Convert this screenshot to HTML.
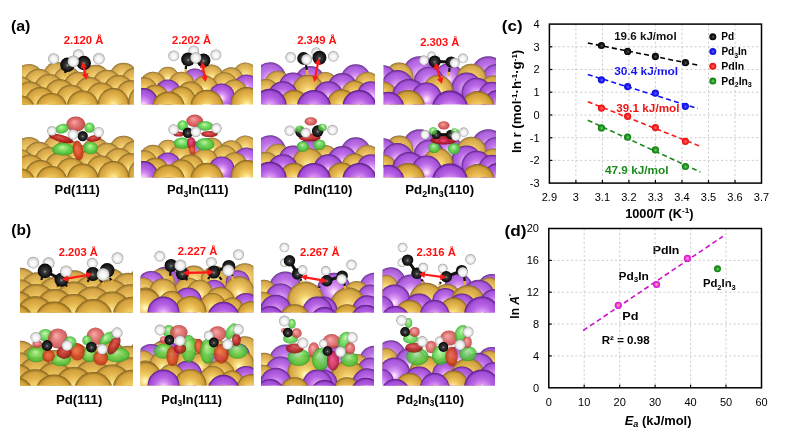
<!DOCTYPE html>
<html><head><meta charset="utf-8"><style>
html,body{margin:0;padding:0;background:#fff;}
svg{display:block;}
text{font-family:"Liberation Sans",Arial,sans-serif;}
</style></head><body>
<svg width="799" height="438" viewBox="0 0 799 438">
<defs>
<radialGradient id="gAu" cx="0.5" cy="0.5" r="0.5" fx="0.5" fy="0.58">
 <stop offset="0" stop-color="#fffbd8"/>
 <stop offset="0.12" stop-color="#fff0a0"/>
 <stop offset="0.32" stop-color="#f3d066"/>
 <stop offset="0.58" stop-color="#e4b44a"/>
 <stop offset="0.86" stop-color="#d09e36"/>
 <stop offset="0.96" stop-color="#9c7426"/>
 <stop offset="1" stop-color="#765616"/>
</radialGradient>
<radialGradient id="gIn" cx="0.5" cy="0.5" r="0.5" fx="0.5" fy="0.58">
 <stop offset="0" stop-color="#fff2ff"/>
 <stop offset="0.12" stop-color="#f8ccff"/>
 <stop offset="0.32" stop-color="#d690f2"/>
 <stop offset="0.58" stop-color="#b660e4"/>
 <stop offset="0.86" stop-color="#a04ad6"/>
 <stop offset="0.96" stop-color="#6c269a"/>
 <stop offset="1" stop-color="#4c1672"/>
</radialGradient>
<radialGradient id="gC" cx="0.5" cy="0.5" r="0.5" fx="0.5" fy="0.55">
 <stop offset="0" stop-color="#9a9a9a"/>
 <stop offset="0.25" stop-color="#3a3a3a"/>
 <stop offset="0.8" stop-color="#151515"/>
 <stop offset="1" stop-color="#000"/>
</radialGradient>
<radialGradient id="gH" cx="0.5" cy="0.5" r="0.5" fx="0.5" fy="0.6">
 <stop offset="0" stop-color="#ffffff"/>
 <stop offset="0.55" stop-color="#f2f2f2"/>
 <stop offset="0.85" stop-color="#d0d0d0"/>
 <stop offset="1" stop-color="#8c8c8c"/>
</radialGradient>

<radialGradient id="mk_k" cx="0.5" cy="0.5" r="0.5" fx="0.55" fy="0.55"><stop offset="0" stop-color="#6a6a6a"/><stop offset="0.35" stop-color="#222"/><stop offset="1" stop-color="#000"/></radialGradient>
<radialGradient id="mk_b" cx="0.5" cy="0.5" r="0.5" fx="0.55" fy="0.55"><stop offset="0" stop-color="#7a7aff"/><stop offset="0.4" stop-color="#2020ff"/><stop offset="1" stop-color="#1010d0"/></radialGradient>
<radialGradient id="mk_r" cx="0.5" cy="0.5" r="0.5" fx="0.55" fy="0.55"><stop offset="0" stop-color="#ff8a8a"/><stop offset="0.4" stop-color="#ff2a2a"/><stop offset="1" stop-color="#e01010"/></radialGradient>
<radialGradient id="mk_g" cx="0.5" cy="0.5" r="0.5" fx="0.55" fy="0.55"><stop offset="0" stop-color="#8ae08a"/><stop offset="0.4" stop-color="#2aa02a"/><stop offset="1" stop-color="#107a10"/></radialGradient>
<radialGradient id="mk_m" cx="0.5" cy="0.5" r="0.5" fx="0.5" fy="0.5"><stop offset="0" stop-color="#ffd040"/><stop offset="0.3" stop-color="#ff70d0"/><stop offset="0.6" stop-color="#e830e0"/><stop offset="1" stop-color="#d010d0"/></radialGradient>

<radialGradient id="gR" cx="0.5" cy="0.5" r="0.5" fx="0.4" fy="0.35">
 <stop offset="0" stop-color="#f4a0a0"/><stop offset="0.5" stop-color="#e06464"/><stop offset="0.9" stop-color="#c84444"/><stop offset="1" stop-color="#a83030"/>
</radialGradient>
<radialGradient id="gD" cx="0.5" cy="0.5" r="0.5" fx="0.4" fy="0.4">
 <stop offset="0" stop-color="#e05050"/><stop offset="0.6" stop-color="#c02424"/><stop offset="1" stop-color="#8a1010"/>
</radialGradient>
<radialGradient id="gO" cx="0.5" cy="0.5" r="0.5" fx="0.4" fy="0.4">
 <stop offset="0" stop-color="#f07050"/><stop offset="0.6" stop-color="#dc4a28"/><stop offset="1" stop-color="#b03018"/>
</radialGradient>
<radialGradient id="gM" cx="0.5" cy="0.5" r="0.5" fx="0.4" fy="0.4">
 <stop offset="0" stop-color="#f05080"/><stop offset="0.6" stop-color="#d02850"/><stop offset="1" stop-color="#a01838"/>
</radialGradient>
<radialGradient id="gG" cx="0.5" cy="0.5" r="0.5" fx="0.45" fy="0.3">
 <stop offset="0" stop-color="#c0f8b0"/><stop offset="0.45" stop-color="#70dc5c"/><stop offset="0.85" stop-color="#48c03a"/><stop offset="1" stop-color="#2e9a24"/>
</radialGradient>
</defs>
<rect width="799" height="438" fill="#fff"/>
<clipPath id="sc1"><rect x="22.0" y="55.0" width="112.0" height="49.6"/></clipPath>
<g clip-path="url(#sc1)">
<circle cx="57.0" cy="76.1" r="14.1" fill="url(#gAu)"/>
<circle cx="57.0" cy="76.1" r="14.1" fill="#fff" fill-opacity="0.120"/>
<circle cx="123.6" cy="77.0" r="14.2" fill="url(#gAu)"/>
<circle cx="123.6" cy="77.0" r="14.2" fill="#fff" fill-opacity="0.117"/>
<circle cx="28.8" cy="78.1" r="14.2" fill="url(#gAu)"/>
<circle cx="28.8" cy="78.1" r="14.2" fill="#fff" fill-opacity="0.113"/>
<circle cx="95.7" cy="79.1" r="14.3" fill="url(#gAu)"/>
<circle cx="95.7" cy="79.1" r="14.3" fill="#fff" fill-opacity="0.110"/>
<circle cx="67.5" cy="81.2" r="14.4" fill="url(#gAu)"/>
<circle cx="67.5" cy="81.2" r="14.4" fill="#fff" fill-opacity="0.103"/>
<circle cx="135.3" cy="82.2" r="14.4" fill="url(#gAu)"/>
<circle cx="135.3" cy="82.2" r="14.4" fill="#fff" fill-opacity="0.099"/>
<circle cx="38.7" cy="83.3" r="14.5" fill="url(#gAu)"/>
<circle cx="38.7" cy="83.3" r="14.5" fill="#fff" fill-opacity="0.095"/>
<circle cx="107.0" cy="84.3" r="14.6" fill="url(#gAu)"/>
<circle cx="107.0" cy="84.3" r="14.6" fill="#fff" fill-opacity="0.092"/>
<circle cx="9.6" cy="85.4" r="14.6" fill="url(#gAu)"/>
<circle cx="9.6" cy="85.4" r="14.6" fill="#fff" fill-opacity="0.088"/>
<circle cx="78.3" cy="86.5" r="14.7" fill="url(#gAu)"/>
<circle cx="78.3" cy="86.5" r="14.7" fill="#fff" fill-opacity="0.084"/>
<circle cx="147.5" cy="87.5" r="14.7" fill="url(#gAu)"/>
<circle cx="147.5" cy="87.5" r="14.7" fill="#fff" fill-opacity="0.081"/>
<circle cx="49.1" cy="88.7" r="14.8" fill="url(#gAu)"/>
<circle cx="49.1" cy="88.7" r="14.8" fill="#fff" fill-opacity="0.077"/>
<circle cx="118.7" cy="89.8" r="14.8" fill="url(#gAu)"/>
<circle cx="118.7" cy="89.8" r="14.8" fill="#fff" fill-opacity="0.073"/>
<circle cx="19.4" cy="90.9" r="14.9" fill="url(#gAu)"/>
<circle cx="19.4" cy="90.9" r="14.9" fill="#fff" fill-opacity="0.069"/>
<circle cx="89.5" cy="92.0" r="15.0" fill="url(#gAu)"/>
<circle cx="89.5" cy="92.0" r="15.0" fill="#fff" fill-opacity="0.066"/>
<circle cx="59.9" cy="94.3" r="15.1" fill="url(#gAu)"/>
<circle cx="59.9" cy="94.3" r="15.1" fill="#fff" fill-opacity="0.058"/>
<circle cx="130.9" cy="95.4" r="15.1" fill="url(#gAu)"/>
<circle cx="130.9" cy="95.4" r="15.1" fill="#fff" fill-opacity="0.054"/>
<circle cx="29.7" cy="96.6" r="15.2" fill="url(#gAu)"/>
<circle cx="29.7" cy="96.6" r="15.2" fill="#fff" fill-opacity="0.050"/>
<circle cx="101.2" cy="97.7" r="15.3" fill="url(#gAu)"/>
<circle cx="101.2" cy="97.7" r="15.3" fill="#fff" fill-opacity="0.046"/>
<circle cx="71.0" cy="100.1" r="15.4" fill="url(#gAu)"/>
<circle cx="71.0" cy="100.1" r="15.4" fill="#fff" fill-opacity="0.038"/>
<circle cx="143.6" cy="101.3" r="15.4" fill="url(#gAu)"/>
<circle cx="143.6" cy="101.3" r="15.4" fill="#fff" fill-opacity="0.034"/>
<circle cx="40.4" cy="102.5" r="15.5" fill="url(#gAu)"/>
<circle cx="40.4" cy="102.5" r="15.5" fill="#fff" fill-opacity="0.030"/>
<circle cx="113.4" cy="103.7" r="15.6" fill="url(#gAu)"/>
<circle cx="113.4" cy="103.7" r="15.6" fill="#fff" fill-opacity="0.026"/>
<circle cx="9.2" cy="105.0" r="15.6" fill="url(#gAu)"/>
<circle cx="9.2" cy="105.0" r="15.6" fill="#fff" fill-opacity="0.021"/>
<circle cx="82.7" cy="106.2" r="15.7" fill="url(#gAu)"/>
<circle cx="82.7" cy="106.2" r="15.7" fill="#fff" fill-opacity="0.017"/>
<circle cx="51.5" cy="108.7" r="15.8" fill="url(#gAu)"/>
<circle cx="19.7" cy="111.3" r="16.0" fill="url(#gAu)"/>
</g>
<clipPath id="sc2"><rect x="141.0" y="50.0" width="112.0" height="54.6"/></clipPath>
<g clip-path="url(#sc2)">
<circle cx="245.4" cy="74.4" r="12.0" fill="url(#gAu)"/>
<circle cx="245.4" cy="74.4" r="12.0" fill="#fff" fill-opacity="0.120"/>
<circle cx="211.4" cy="76.6" r="12.0" fill="url(#gAu)"/>
<circle cx="211.4" cy="76.6" r="12.0" fill="#fff" fill-opacity="0.112"/>
<circle cx="167.9" cy="77.8" r="11.0" fill="url(#gAu)"/>
<circle cx="167.9" cy="77.8" r="11.0" fill="#fff" fill-opacity="0.108"/>
<circle cx="231.1" cy="79.3" r="12.0" fill="url(#gAu)"/>
<circle cx="231.1" cy="79.3" r="12.0" fill="#fff" fill-opacity="0.103"/>
<circle cx="194.7" cy="81.4" r="13.0" fill="url(#gIn)"/>
<circle cx="194.7" cy="81.4" r="13.0" fill="#fff" fill-opacity="0.095"/>
<circle cx="153.0" cy="84.7" r="13.0" fill="url(#gAu)"/>
<circle cx="153.0" cy="84.7" r="13.0" fill="#fff" fill-opacity="0.083"/>
<circle cx="181.6" cy="84.7" r="13.0" fill="url(#gAu)"/>
<circle cx="181.6" cy="84.7" r="13.0" fill="#fff" fill-opacity="0.083"/>
<circle cx="224.6" cy="85.2" r="13.0" fill="url(#gAu)"/>
<circle cx="224.6" cy="85.2" r="13.0" fill="#fff" fill-opacity="0.081"/>
<circle cx="246.5" cy="87.4" r="13.0" fill="url(#gIn)"/>
<circle cx="246.5" cy="87.4" r="13.0" fill="#fff" fill-opacity="0.074"/>
<circle cx="204.9" cy="88.5" r="13.0" fill="url(#gAu)"/>
<circle cx="204.9" cy="88.5" r="13.0" fill="#fff" fill-opacity="0.070"/>
<circle cx="144.4" cy="90.2" r="13.0" fill="url(#gAu)"/>
<circle cx="144.4" cy="90.2" r="13.0" fill="#fff" fill-opacity="0.064"/>
<circle cx="167.9" cy="92.4" r="13.0" fill="url(#gIn)"/>
<circle cx="167.9" cy="92.4" r="13.0" fill="#fff" fill-opacity="0.056"/>
<circle cx="234.4" cy="92.4" r="13.0" fill="url(#gAu)"/>
<circle cx="234.4" cy="92.4" r="13.0" fill="#fff" fill-opacity="0.056"/>
<circle cx="190.4" cy="95.5" r="14.0" fill="url(#gAu)"/>
<circle cx="190.4" cy="95.5" r="14.0" fill="#fff" fill-opacity="0.045"/>
<circle cx="221.7" cy="96.4" r="13.0" fill="url(#gIn)"/>
<circle cx="221.7" cy="96.4" r="13.0" fill="#fff" fill-opacity="0.041"/>
<circle cx="155.3" cy="98.8" r="14.0" fill="url(#gAu)"/>
<circle cx="155.3" cy="98.8" r="14.0" fill="#fff" fill-opacity="0.033"/>
<circle cx="181.6" cy="100.5" r="14.0" fill="url(#gAu)"/>
<circle cx="181.6" cy="100.5" r="14.0" fill="#fff" fill-opacity="0.027"/>
<circle cx="143.3" cy="103.1" r="15.0" fill="url(#gIn)"/>
<circle cx="143.3" cy="103.1" r="15.0" fill="#fff" fill-opacity="0.018"/>
<circle cx="246.8" cy="103.1" r="16.0" fill="url(#gAu)"/>
<circle cx="246.8" cy="103.1" r="16.0" fill="#fff" fill-opacity="0.018"/>
<circle cx="207.0" cy="106.3" r="16.5" fill="url(#gAu)"/>
<circle cx="168.5" cy="108.0" r="16.5" fill="url(#gAu)"/>
</g>
<clipPath id="sc3"><rect x="261.0" y="50.0" width="114.0" height="54.6"/></clipPath>
<g clip-path="url(#sc3)">
<circle cx="270.0" cy="78.2" r="16.0" fill="url(#gIn)"/>
<circle cx="270.0" cy="78.2" r="16.0" fill="#fff" fill-opacity="0.120"/>
<circle cx="355.8" cy="79.3" r="15.0" fill="url(#gIn)"/>
<circle cx="355.8" cy="79.3" r="15.0" fill="#fff" fill-opacity="0.115"/>
<circle cx="310.0" cy="81.0" r="15.0" fill="url(#gIn)"/>
<circle cx="310.0" cy="81.0" r="15.0" fill="#fff" fill-opacity="0.108"/>
<circle cx="277.8" cy="83.7" r="13.0" fill="url(#gAu)"/>
<circle cx="277.8" cy="83.7" r="13.0" fill="#fff" fill-opacity="0.097"/>
<circle cx="325.5" cy="83.9" r="12.0" fill="url(#gAu)"/>
<circle cx="325.5" cy="83.9" r="12.0" fill="#fff" fill-opacity="0.096"/>
<circle cx="367.4" cy="84.9" r="13.0" fill="url(#gAu)"/>
<circle cx="367.4" cy="84.9" r="13.0" fill="#fff" fill-opacity="0.092"/>
<circle cx="293.0" cy="86.5" r="14.0" fill="url(#gIn)"/>
<circle cx="293.0" cy="86.5" r="14.0" fill="#fff" fill-opacity="0.085"/>
<circle cx="342.4" cy="88.1" r="15.0" fill="url(#gIn)"/>
<circle cx="342.4" cy="88.1" r="15.0" fill="#fff" fill-opacity="0.079"/>
<circle cx="308.1" cy="90.8" r="16.0" fill="url(#gAu)"/>
<circle cx="308.1" cy="90.8" r="16.0" fill="#fff" fill-opacity="0.068"/>
<circle cx="266.2" cy="91.9" r="13.0" fill="url(#gAu)"/>
<circle cx="266.2" cy="91.9" r="13.0" fill="#fff" fill-opacity="0.063"/>
<circle cx="354.6" cy="93.6" r="13.0" fill="url(#gAu)"/>
<circle cx="354.6" cy="93.6" r="13.0" fill="#fff" fill-opacity="0.056"/>
<circle cx="371.0" cy="95.2" r="14.0" fill="url(#gIn)"/>
<circle cx="371.0" cy="95.2" r="14.0" fill="#fff" fill-opacity="0.049"/>
<circle cx="283.0" cy="96.2" r="15.0" fill="url(#gIn)"/>
<circle cx="283.0" cy="96.2" r="15.0" fill="#fff" fill-opacity="0.045"/>
<circle cx="328.4" cy="96.2" r="15.0" fill="url(#gIn)"/>
<circle cx="328.4" cy="96.2" r="15.0" fill="#fff" fill-opacity="0.045"/>
<circle cx="341.8" cy="104.4" r="15.0" fill="url(#gAu)"/>
<circle cx="341.8" cy="104.4" r="15.0" fill="#fff" fill-opacity="0.011"/>
<circle cx="294.1" cy="105.0" r="15.0" fill="url(#gAu)"/>
<circle cx="269.7" cy="105.8" r="17.0" fill="url(#gIn)"/>
<circle cx="313.9" cy="107.0" r="17.0" fill="url(#gIn)"/>
<circle cx="359.3" cy="107.0" r="17.0" fill="url(#gIn)"/>
</g>
<clipPath id="sc4"><rect x="383.5" y="50.0" width="112.5" height="54.6"/></clipPath>
<g clip-path="url(#sc4)">
<circle cx="419.6" cy="73.2" r="17.0" fill="url(#gIn)"/>
<circle cx="419.6" cy="73.2" r="17.0" fill="#fff" fill-opacity="0.120"/>
<circle cx="488.3" cy="73.2" r="17.0" fill="url(#gIn)"/>
<circle cx="488.3" cy="73.2" r="17.0" fill="#fff" fill-opacity="0.120"/>
<circle cx="399.2" cy="76.6" r="14.0" fill="url(#gAu)"/>
<circle cx="399.2" cy="76.6" r="14.0" fill="#fff" fill-opacity="0.108"/>
<circle cx="448.7" cy="77.2" r="14.0" fill="url(#gIn)"/>
<circle cx="448.7" cy="77.2" r="14.0" fill="#fff" fill-opacity="0.106"/>
<circle cx="496.0" cy="78.3" r="14.0" fill="url(#gIn)"/>
<circle cx="496.0" cy="78.3" r="14.0" fill="#fff" fill-opacity="0.103"/>
<circle cx="471.4" cy="78.7" r="15.0" fill="url(#gAu)"/>
<circle cx="471.4" cy="78.7" r="15.0" fill="#fff" fill-opacity="0.101"/>
<circle cx="382.0" cy="79.9" r="15.0" fill="url(#gIn)"/>
<circle cx="382.0" cy="79.9" r="15.0" fill="#fff" fill-opacity="0.097"/>
<circle cx="428.9" cy="81.7" r="15.0" fill="url(#gIn)"/>
<circle cx="428.9" cy="81.7" r="15.0" fill="#fff" fill-opacity="0.091"/>
<circle cx="397.5" cy="86.1" r="16.0" fill="url(#gIn)"/>
<circle cx="397.5" cy="86.1" r="16.0" fill="#fff" fill-opacity="0.076"/>
<circle cx="466.7" cy="87.5" r="15.0" fill="url(#gIn)"/>
<circle cx="466.7" cy="87.5" r="15.0" fill="#fff" fill-opacity="0.071"/>
<circle cx="493.0" cy="88.4" r="13.0" fill="url(#gAu)"/>
<circle cx="493.0" cy="88.4" r="13.0" fill="#fff" fill-opacity="0.068"/>
<circle cx="438.0" cy="90.0" r="15.0" fill="url(#gAu)"/>
<circle cx="438.0" cy="90.0" r="15.0" fill="#fff" fill-opacity="0.063"/>
<circle cx="476.6" cy="92.7" r="15.0" fill="url(#gIn)"/>
<circle cx="476.6" cy="92.7" r="15.0" fill="#fff" fill-opacity="0.054"/>
<circle cx="383.5" cy="94.8" r="13.0" fill="url(#gAu)"/>
<circle cx="383.5" cy="94.8" r="13.0" fill="#fff" fill-opacity="0.047"/>
<circle cx="492.3" cy="95.8" r="14.0" fill="url(#gIn)"/>
<circle cx="492.3" cy="95.8" r="14.0" fill="#fff" fill-opacity="0.043"/>
<circle cx="409.1" cy="95.9" r="17.0" fill="url(#gIn)"/>
<circle cx="409.1" cy="95.9" r="17.0" fill="#fff" fill-opacity="0.043"/>
<circle cx="426.6" cy="97.4" r="15.0" fill="url(#gIn)"/>
<circle cx="426.6" cy="97.4" r="15.0" fill="#fff" fill-opacity="0.038"/>
<circle cx="498.0" cy="105.0" r="15.0" fill="url(#gIn)"/>
<circle cx="498.0" cy="105.0" r="15.0" fill="#fff" fill-opacity="0.012"/>
<circle cx="408.0" cy="107.0" r="17.0" fill="url(#gAu)"/>
<circle cx="388.2" cy="107.7" r="16.0" fill="url(#gIn)"/>
<circle cx="477.8" cy="108.1" r="17.0" fill="url(#gAu)"/>
<circle cx="450.0" cy="108.5" r="18.0" fill="url(#gIn)"/>
</g>
<clipPath id="sc5"><rect x="20.0" y="250.0" width="113.0" height="62.6"/></clipPath>
<g clip-path="url(#sc5)">
<circle cx="145.3" cy="283.8" r="17.7" fill="url(#gAu)"/>
<circle cx="145.3" cy="283.8" r="17.7" fill="#fff" fill-opacity="0.120"/>
<circle cx="20.5" cy="285.6" r="17.8" fill="url(#gAu)"/>
<circle cx="20.5" cy="285.6" r="17.8" fill="#fff" fill-opacity="0.115"/>
<circle cx="109.9" cy="286.0" r="17.8" fill="url(#gAu)"/>
<circle cx="109.9" cy="286.0" r="17.8" fill="#fff" fill-opacity="0.114"/>
<circle cx="74.1" cy="288.1" r="17.9" fill="url(#gAu)"/>
<circle cx="74.1" cy="288.1" r="17.9" fill="#fff" fill-opacity="0.107"/>
<circle cx="37.9" cy="290.3" r="18.0" fill="url(#gAu)"/>
<circle cx="37.9" cy="290.3" r="18.0" fill="#fff" fill-opacity="0.100"/>
<circle cx="128.4" cy="290.7" r="18.0" fill="url(#gAu)"/>
<circle cx="128.4" cy="290.7" r="18.0" fill="#fff" fill-opacity="0.099"/>
<circle cx="92.3" cy="292.9" r="18.1" fill="url(#gAu)"/>
<circle cx="92.3" cy="292.9" r="18.1" fill="#fff" fill-opacity="0.093"/>
<circle cx="55.7" cy="295.2" r="18.2" fill="url(#gAu)"/>
<circle cx="55.7" cy="295.2" r="18.2" fill="#fff" fill-opacity="0.086"/>
<circle cx="147.5" cy="295.5" r="18.3" fill="url(#gAu)"/>
<circle cx="147.5" cy="295.5" r="18.3" fill="#fff" fill-opacity="0.085"/>
<circle cx="18.7" cy="297.5" r="18.4" fill="url(#gAu)"/>
<circle cx="18.7" cy="297.5" r="18.4" fill="#fff" fill-opacity="0.079"/>
<circle cx="111.0" cy="297.8" r="18.4" fill="url(#gAu)"/>
<circle cx="111.0" cy="297.8" r="18.4" fill="#fff" fill-opacity="0.078"/>
<circle cx="74.0" cy="300.1" r="18.5" fill="url(#gAu)"/>
<circle cx="74.0" cy="300.1" r="18.5" fill="#fff" fill-opacity="0.071"/>
<circle cx="36.6" cy="302.5" r="18.6" fill="url(#gAu)"/>
<circle cx="36.6" cy="302.5" r="18.6" fill="#fff" fill-opacity="0.064"/>
<circle cx="130.2" cy="302.9" r="18.6" fill="url(#gAu)"/>
<circle cx="130.2" cy="302.9" r="18.6" fill="#fff" fill-opacity="0.063"/>
<circle cx="92.8" cy="305.2" r="18.7" fill="url(#gAu)"/>
<circle cx="92.8" cy="305.2" r="18.7" fill="#fff" fill-opacity="0.055"/>
<circle cx="55.0" cy="307.7" r="18.8" fill="url(#gAu)"/>
<circle cx="55.0" cy="307.7" r="18.8" fill="#fff" fill-opacity="0.048"/>
<circle cx="149.8" cy="308.0" r="18.9" fill="url(#gAu)"/>
<circle cx="149.8" cy="308.0" r="18.9" fill="#fff" fill-opacity="0.047"/>
<circle cx="16.8" cy="310.1" r="19.0" fill="url(#gAu)"/>
<circle cx="16.8" cy="310.1" r="19.0" fill="#fff" fill-opacity="0.041"/>
<circle cx="112.1" cy="310.5" r="19.0" fill="url(#gAu)"/>
<circle cx="112.1" cy="310.5" r="19.0" fill="#fff" fill-opacity="0.040"/>
<circle cx="74.0" cy="313.0" r="19.1" fill="url(#gAu)"/>
<circle cx="74.0" cy="313.0" r="19.1" fill="#fff" fill-opacity="0.032"/>
<circle cx="35.3" cy="315.5" r="19.2" fill="url(#gAu)"/>
<circle cx="35.3" cy="315.5" r="19.2" fill="#fff" fill-opacity="0.025"/>
<circle cx="132.0" cy="315.9" r="19.2" fill="url(#gAu)"/>
<circle cx="132.0" cy="315.9" r="19.2" fill="#fff" fill-opacity="0.023"/>
<circle cx="93.4" cy="318.4" r="19.4" fill="url(#gAu)"/>
<circle cx="93.4" cy="318.4" r="19.4" fill="#fff" fill-opacity="0.016"/>
<circle cx="54.3" cy="321.0" r="19.5" fill="url(#gAu)"/>
<circle cx="14.7" cy="323.6" r="19.6" fill="url(#gAu)"/>
</g>
<clipPath id="sc6"><rect x="140.5" y="250.0" width="113.0" height="62.6"/></clipPath>
<g clip-path="url(#sc6)">
<circle cx="244.9" cy="277.2" r="14.0" fill="url(#gAu)"/>
<circle cx="244.9" cy="277.2" r="14.0" fill="#fff" fill-opacity="0.120"/>
<circle cx="193.8" cy="279.6" r="14.0" fill="url(#gAu)"/>
<circle cx="193.8" cy="279.6" r="14.0" fill="#fff" fill-opacity="0.113"/>
<circle cx="215.0" cy="280.0" r="14.0" fill="url(#gAu)"/>
<circle cx="215.0" cy="280.0" r="14.0" fill="#fff" fill-opacity="0.112"/>
<circle cx="165.3" cy="280.8" r="14.0" fill="url(#gIn)"/>
<circle cx="165.3" cy="280.8" r="14.0" fill="#fff" fill-opacity="0.109"/>
<circle cx="161.8" cy="281.5" r="13.0" fill="url(#gAu)"/>
<circle cx="161.8" cy="281.5" r="13.0" fill="#fff" fill-opacity="0.107"/>
<circle cx="237.8" cy="282.3" r="12.0" fill="url(#gIn)"/>
<circle cx="237.8" cy="282.3" r="12.0" fill="#fff" fill-opacity="0.105"/>
<circle cx="151.1" cy="284.9" r="14.0" fill="url(#gIn)"/>
<circle cx="151.1" cy="284.9" r="14.0" fill="#fff" fill-opacity="0.097"/>
<circle cx="142.8" cy="290.4" r="13.0" fill="url(#gAu)"/>
<circle cx="142.8" cy="290.4" r="13.0" fill="#fff" fill-opacity="0.081"/>
<circle cx="239.0" cy="291.3" r="15.0" fill="url(#gAu)"/>
<circle cx="239.0" cy="291.3" r="15.0" fill="#fff" fill-opacity="0.078"/>
<circle cx="187.9" cy="291.4" r="14.0" fill="url(#gAu)"/>
<circle cx="187.9" cy="291.4" r="14.0" fill="#fff" fill-opacity="0.078"/>
<circle cx="214.0" cy="291.8" r="12.0" fill="url(#gIn)"/>
<circle cx="214.0" cy="291.8" r="12.0" fill="#fff" fill-opacity="0.077"/>
<circle cx="163.0" cy="292.6" r="14.0" fill="url(#gAu)"/>
<circle cx="163.0" cy="292.6" r="14.0" fill="#fff" fill-opacity="0.074"/>
<circle cx="199.8" cy="292.8" r="13.0" fill="url(#gAu)"/>
<circle cx="199.8" cy="292.8" r="13.0" fill="#fff" fill-opacity="0.074"/>
<circle cx="145.1" cy="301.5" r="14.0" fill="url(#gAu)"/>
<circle cx="145.1" cy="301.5" r="14.0" fill="#fff" fill-opacity="0.048"/>
<circle cx="187.9" cy="301.5" r="14.0" fill="url(#gIn)"/>
<circle cx="187.9" cy="301.5" r="14.0" fill="#fff" fill-opacity="0.048"/>
<circle cx="220.0" cy="302.0" r="15.0" fill="url(#gAu)"/>
<circle cx="220.0" cy="302.0" r="15.0" fill="#fff" fill-opacity="0.047"/>
<circle cx="171.3" cy="304.1" r="13.0" fill="url(#gAu)"/>
<circle cx="171.3" cy="304.1" r="13.0" fill="#fff" fill-opacity="0.040"/>
<circle cx="145.1" cy="305.7" r="17.0" fill="url(#gAu)"/>
<circle cx="145.1" cy="305.7" r="17.0" fill="#fff" fill-opacity="0.036"/>
<circle cx="212.8" cy="305.9" r="13.0" fill="url(#gAu)"/>
<circle cx="212.8" cy="305.9" r="13.0" fill="#fff" fill-opacity="0.035"/>
<circle cx="246.1" cy="306.9" r="14.0" fill="url(#gIn)"/>
<circle cx="246.1" cy="306.9" r="14.0" fill="#fff" fill-opacity="0.032"/>
<circle cx="231.8" cy="309.6" r="12.0" fill="url(#gAu)"/>
<circle cx="231.8" cy="309.6" r="12.0" fill="#fff" fill-opacity="0.024"/>
<circle cx="190.3" cy="311.9" r="16.0" fill="url(#gAu)"/>
<circle cx="190.3" cy="311.9" r="16.0" fill="#fff" fill-opacity="0.017"/>
<circle cx="163.5" cy="312.5" r="16.0" fill="url(#gIn)"/>
<circle cx="163.5" cy="312.5" r="16.0" fill="#fff" fill-opacity="0.016"/>
<circle cx="250.8" cy="315.2" r="14.0" fill="url(#gAu)"/>
<circle cx="223.5" cy="317.8" r="16.0" fill="url(#gIn)"/>
</g>
<clipPath id="sc7"><rect x="261.0" y="250.0" width="113.0" height="62.6"/></clipPath>
<g clip-path="url(#sc7)">
<circle cx="285.3" cy="287.5" r="16.0" fill="url(#gIn)"/>
<circle cx="285.3" cy="287.5" r="16.0" fill="#fff" fill-opacity="0.120"/>
<circle cx="374.4" cy="287.7" r="15.0" fill="url(#gIn)"/>
<circle cx="374.4" cy="287.7" r="15.0" fill="#fff" fill-opacity="0.119"/>
<circle cx="334.0" cy="289.7" r="17.0" fill="url(#gIn)"/>
<circle cx="334.0" cy="289.7" r="17.0" fill="#fff" fill-opacity="0.112"/>
<circle cx="264.0" cy="292.8" r="13.0" fill="url(#gAu)"/>
<circle cx="264.0" cy="292.8" r="13.0" fill="#fff" fill-opacity="0.102"/>
<circle cx="356.6" cy="294.0" r="13.0" fill="url(#gAu)"/>
<circle cx="356.6" cy="294.0" r="13.0" fill="#fff" fill-opacity="0.097"/>
<circle cx="280.6" cy="298.4" r="15.0" fill="url(#gIn)"/>
<circle cx="280.6" cy="298.4" r="15.0" fill="#fff" fill-opacity="0.082"/>
<circle cx="370.8" cy="298.6" r="14.0" fill="url(#gIn)"/>
<circle cx="370.8" cy="298.6" r="14.0" fill="#fff" fill-opacity="0.082"/>
<circle cx="305.5" cy="299.6" r="18.0" fill="url(#gAu)"/>
<circle cx="305.5" cy="299.6" r="18.0" fill="#fff" fill-opacity="0.078"/>
<circle cx="262.8" cy="304.7" r="13.0" fill="url(#gAu)"/>
<circle cx="262.8" cy="304.7" r="13.0" fill="#fff" fill-opacity="0.060"/>
<circle cx="348.3" cy="305.5" r="18.0" fill="url(#gAu)"/>
<circle cx="348.3" cy="305.5" r="18.0" fill="#fff" fill-opacity="0.058"/>
<circle cx="367.3" cy="310.3" r="15.0" fill="url(#gIn)"/>
<circle cx="367.3" cy="310.3" r="15.0" fill="#fff" fill-opacity="0.041"/>
<circle cx="323.3" cy="310.4" r="14.0" fill="url(#gIn)"/>
<circle cx="323.3" cy="310.4" r="14.0" fill="#fff" fill-opacity="0.041"/>
<circle cx="275.8" cy="310.7" r="16.0" fill="url(#gIn)"/>
<circle cx="275.8" cy="310.7" r="16.0" fill="#fff" fill-opacity="0.040"/>
<circle cx="317.4" cy="311.5" r="15.0" fill="url(#gIn)"/>
<circle cx="317.4" cy="311.5" r="15.0" fill="#fff" fill-opacity="0.037"/>
<circle cx="347.1" cy="318.2" r="14.0" fill="url(#gAu)"/>
<circle cx="347.1" cy="318.2" r="14.0" fill="#fff" fill-opacity="0.014"/>
<circle cx="294.8" cy="319.2" r="15.0" fill="url(#gAu)"/>
<circle cx="294.8" cy="319.2" r="15.0" fill="#fff" fill-opacity="0.010"/>
<circle cx="366.0" cy="319.8" r="15.0" fill="url(#gIn)"/>
<circle cx="269.9" cy="321.0" r="15.0" fill="url(#gIn)"/>
<circle cx="324.5" cy="322.1" r="15.0" fill="url(#gIn)"/>
</g>
<clipPath id="sc8"><rect x="382.5" y="250.0" width="112.5" height="62.6"/></clipPath>
<g clip-path="url(#sc8)">
<circle cx="390.7" cy="282.3" r="15.0" fill="url(#gIn)"/>
<circle cx="390.7" cy="282.3" r="15.0" fill="#fff" fill-opacity="0.120"/>
<circle cx="386.0" cy="287.1" r="12.0" fill="url(#gAu)"/>
<circle cx="386.0" cy="287.1" r="12.0" fill="#fff" fill-opacity="0.105"/>
<circle cx="458.4" cy="287.3" r="14.0" fill="url(#gIn)"/>
<circle cx="458.4" cy="287.3" r="14.0" fill="#fff" fill-opacity="0.104"/>
<circle cx="491.7" cy="287.9" r="14.0" fill="url(#gIn)"/>
<circle cx="491.7" cy="287.9" r="14.0" fill="#fff" fill-opacity="0.103"/>
<circle cx="489.3" cy="290.4" r="13.0" fill="url(#gAu)"/>
<circle cx="489.3" cy="290.4" r="13.0" fill="#fff" fill-opacity="0.095"/>
<circle cx="410.9" cy="290.5" r="16.0" fill="url(#gIn)"/>
<circle cx="410.9" cy="290.5" r="16.0" fill="#fff" fill-opacity="0.095"/>
<circle cx="478.6" cy="295.8" r="16.0" fill="url(#gIn)"/>
<circle cx="478.6" cy="295.8" r="16.0" fill="#fff" fill-opacity="0.078"/>
<circle cx="447.0" cy="298.0" r="14.0" fill="url(#gAu)"/>
<circle cx="447.0" cy="298.0" r="14.0" fill="#fff" fill-opacity="0.071"/>
<circle cx="426.3" cy="299.8" r="17.0" fill="url(#gAu)"/>
<circle cx="426.3" cy="299.8" r="17.0" fill="#fff" fill-opacity="0.066"/>
<circle cx="394.3" cy="300.6" r="16.0" fill="url(#gIn)"/>
<circle cx="394.3" cy="300.6" r="16.0" fill="#fff" fill-opacity="0.063"/>
<circle cx="445.3" cy="301.1" r="13.0" fill="url(#gIn)"/>
<circle cx="445.3" cy="301.1" r="13.0" fill="#fff" fill-opacity="0.062"/>
<circle cx="467.9" cy="302.2" r="17.0" fill="url(#gAu)"/>
<circle cx="467.9" cy="302.2" r="17.0" fill="#fff" fill-opacity="0.058"/>
<circle cx="494.0" cy="303.3" r="14.0" fill="url(#gIn)"/>
<circle cx="494.0" cy="303.3" r="14.0" fill="#fff" fill-opacity="0.055"/>
<circle cx="462.0" cy="307.5" r="14.0" fill="url(#gIn)"/>
<circle cx="462.0" cy="307.5" r="14.0" fill="#fff" fill-opacity="0.042"/>
<circle cx="419.2" cy="308.5" r="15.0" fill="url(#gIn)"/>
<circle cx="419.2" cy="308.5" r="15.0" fill="#fff" fill-opacity="0.039"/>
<circle cx="380.0" cy="309.3" r="14.0" fill="url(#gIn)"/>
<circle cx="380.0" cy="309.3" r="14.0" fill="#fff" fill-opacity="0.036"/>
<circle cx="453.6" cy="312.6" r="15.0" fill="url(#gAu)"/>
<circle cx="453.6" cy="312.6" r="15.0" fill="#fff" fill-opacity="0.026"/>
<circle cx="482.1" cy="314.5" r="18.0" fill="url(#gIn)"/>
<circle cx="482.1" cy="314.5" r="18.0" fill="#fff" fill-opacity="0.020"/>
<circle cx="409.7" cy="315.0" r="15.0" fill="url(#gAu)"/>
<circle cx="409.7" cy="315.0" r="15.0" fill="#fff" fill-opacity="0.019"/>
<circle cx="434.7" cy="315.0" r="15.0" fill="url(#gIn)"/>
<circle cx="434.7" cy="315.0" r="15.0" fill="#fff" fill-opacity="0.019"/>
<circle cx="395.4" cy="321.0" r="15.0" fill="url(#gIn)"/>
</g>
<clipPath id="sc9"><rect x="22.0" y="128.0" width="112.0" height="49.6"/></clipPath>
<g clip-path="url(#sc9)">
<circle cx="57.0" cy="149.1" r="14.1" fill="url(#gAu)"/>
<circle cx="57.0" cy="149.1" r="14.1" fill="#fff" fill-opacity="0.120"/>
<circle cx="123.6" cy="150.0" r="14.2" fill="url(#gAu)"/>
<circle cx="123.6" cy="150.0" r="14.2" fill="#fff" fill-opacity="0.117"/>
<circle cx="28.8" cy="151.1" r="14.2" fill="url(#gAu)"/>
<circle cx="28.8" cy="151.1" r="14.2" fill="#fff" fill-opacity="0.113"/>
<circle cx="95.7" cy="152.1" r="14.3" fill="url(#gAu)"/>
<circle cx="95.7" cy="152.1" r="14.3" fill="#fff" fill-opacity="0.110"/>
<circle cx="67.5" cy="154.2" r="14.4" fill="url(#gAu)"/>
<circle cx="67.5" cy="154.2" r="14.4" fill="#fff" fill-opacity="0.103"/>
<circle cx="135.3" cy="155.2" r="14.4" fill="url(#gAu)"/>
<circle cx="135.3" cy="155.2" r="14.4" fill="#fff" fill-opacity="0.099"/>
<circle cx="38.7" cy="156.3" r="14.5" fill="url(#gAu)"/>
<circle cx="38.7" cy="156.3" r="14.5" fill="#fff" fill-opacity="0.095"/>
<circle cx="107.0" cy="157.3" r="14.6" fill="url(#gAu)"/>
<circle cx="107.0" cy="157.3" r="14.6" fill="#fff" fill-opacity="0.092"/>
<circle cx="9.6" cy="158.4" r="14.6" fill="url(#gAu)"/>
<circle cx="9.6" cy="158.4" r="14.6" fill="#fff" fill-opacity="0.088"/>
<circle cx="78.3" cy="159.5" r="14.7" fill="url(#gAu)"/>
<circle cx="78.3" cy="159.5" r="14.7" fill="#fff" fill-opacity="0.084"/>
<circle cx="147.5" cy="160.5" r="14.7" fill="url(#gAu)"/>
<circle cx="147.5" cy="160.5" r="14.7" fill="#fff" fill-opacity="0.081"/>
<circle cx="49.1" cy="161.7" r="14.8" fill="url(#gAu)"/>
<circle cx="49.1" cy="161.7" r="14.8" fill="#fff" fill-opacity="0.077"/>
<circle cx="118.7" cy="162.8" r="14.8" fill="url(#gAu)"/>
<circle cx="118.7" cy="162.8" r="14.8" fill="#fff" fill-opacity="0.073"/>
<circle cx="19.4" cy="163.9" r="14.9" fill="url(#gAu)"/>
<circle cx="19.4" cy="163.9" r="14.9" fill="#fff" fill-opacity="0.069"/>
<circle cx="89.5" cy="165.0" r="15.0" fill="url(#gAu)"/>
<circle cx="89.5" cy="165.0" r="15.0" fill="#fff" fill-opacity="0.066"/>
<circle cx="59.9" cy="167.3" r="15.1" fill="url(#gAu)"/>
<circle cx="59.9" cy="167.3" r="15.1" fill="#fff" fill-opacity="0.058"/>
<circle cx="130.9" cy="168.4" r="15.1" fill="url(#gAu)"/>
<circle cx="130.9" cy="168.4" r="15.1" fill="#fff" fill-opacity="0.054"/>
<circle cx="29.7" cy="169.6" r="15.2" fill="url(#gAu)"/>
<circle cx="29.7" cy="169.6" r="15.2" fill="#fff" fill-opacity="0.050"/>
<circle cx="101.2" cy="170.7" r="15.3" fill="url(#gAu)"/>
<circle cx="101.2" cy="170.7" r="15.3" fill="#fff" fill-opacity="0.046"/>
<circle cx="71.0" cy="173.1" r="15.4" fill="url(#gAu)"/>
<circle cx="71.0" cy="173.1" r="15.4" fill="#fff" fill-opacity="0.038"/>
<circle cx="143.6" cy="174.3" r="15.4" fill="url(#gAu)"/>
<circle cx="143.6" cy="174.3" r="15.4" fill="#fff" fill-opacity="0.034"/>
<circle cx="40.4" cy="175.5" r="15.5" fill="url(#gAu)"/>
<circle cx="40.4" cy="175.5" r="15.5" fill="#fff" fill-opacity="0.030"/>
<circle cx="113.4" cy="176.7" r="15.6" fill="url(#gAu)"/>
<circle cx="113.4" cy="176.7" r="15.6" fill="#fff" fill-opacity="0.026"/>
<circle cx="9.2" cy="178.0" r="15.6" fill="url(#gAu)"/>
<circle cx="9.2" cy="178.0" r="15.6" fill="#fff" fill-opacity="0.021"/>
<circle cx="82.7" cy="179.2" r="15.7" fill="url(#gAu)"/>
<circle cx="82.7" cy="179.2" r="15.7" fill="#fff" fill-opacity="0.017"/>
<circle cx="51.5" cy="181.7" r="15.8" fill="url(#gAu)"/>
<circle cx="19.7" cy="184.3" r="16.0" fill="url(#gAu)"/>
</g>
<clipPath id="sc10"><rect x="141.0" y="123.0" width="112.0" height="54.6"/></clipPath>
<g clip-path="url(#sc10)">
<circle cx="245.4" cy="147.4" r="12.0" fill="url(#gAu)"/>
<circle cx="245.4" cy="147.4" r="12.0" fill="#fff" fill-opacity="0.120"/>
<circle cx="211.4" cy="149.6" r="12.0" fill="url(#gAu)"/>
<circle cx="211.4" cy="149.6" r="12.0" fill="#fff" fill-opacity="0.112"/>
<circle cx="167.9" cy="150.8" r="11.0" fill="url(#gAu)"/>
<circle cx="167.9" cy="150.8" r="11.0" fill="#fff" fill-opacity="0.108"/>
<circle cx="231.1" cy="152.3" r="12.0" fill="url(#gAu)"/>
<circle cx="231.1" cy="152.3" r="12.0" fill="#fff" fill-opacity="0.102"/>
<circle cx="194.7" cy="154.4" r="13.0" fill="url(#gIn)"/>
<circle cx="194.7" cy="154.4" r="13.0" fill="#fff" fill-opacity="0.095"/>
<circle cx="153.0" cy="157.7" r="13.0" fill="url(#gAu)"/>
<circle cx="153.0" cy="157.7" r="13.0" fill="#fff" fill-opacity="0.083"/>
<circle cx="181.6" cy="157.7" r="13.0" fill="url(#gAu)"/>
<circle cx="181.6" cy="157.7" r="13.0" fill="#fff" fill-opacity="0.083"/>
<circle cx="224.6" cy="158.2" r="13.0" fill="url(#gAu)"/>
<circle cx="224.6" cy="158.2" r="13.0" fill="#fff" fill-opacity="0.081"/>
<circle cx="246.5" cy="160.4" r="13.0" fill="url(#gIn)"/>
<circle cx="246.5" cy="160.4" r="13.0" fill="#fff" fill-opacity="0.074"/>
<circle cx="204.9" cy="161.5" r="13.0" fill="url(#gAu)"/>
<circle cx="204.9" cy="161.5" r="13.0" fill="#fff" fill-opacity="0.070"/>
<circle cx="144.4" cy="163.2" r="13.0" fill="url(#gAu)"/>
<circle cx="144.4" cy="163.2" r="13.0" fill="#fff" fill-opacity="0.064"/>
<circle cx="167.9" cy="165.4" r="13.0" fill="url(#gIn)"/>
<circle cx="167.9" cy="165.4" r="13.0" fill="#fff" fill-opacity="0.056"/>
<circle cx="234.4" cy="165.4" r="13.0" fill="url(#gAu)"/>
<circle cx="234.4" cy="165.4" r="13.0" fill="#fff" fill-opacity="0.056"/>
<circle cx="190.4" cy="168.5" r="14.0" fill="url(#gAu)"/>
<circle cx="190.4" cy="168.5" r="14.0" fill="#fff" fill-opacity="0.045"/>
<circle cx="221.7" cy="169.4" r="13.0" fill="url(#gIn)"/>
<circle cx="221.7" cy="169.4" r="13.0" fill="#fff" fill-opacity="0.041"/>
<circle cx="155.3" cy="171.8" r="14.0" fill="url(#gAu)"/>
<circle cx="155.3" cy="171.8" r="14.0" fill="#fff" fill-opacity="0.033"/>
<circle cx="181.6" cy="173.5" r="14.0" fill="url(#gAu)"/>
<circle cx="181.6" cy="173.5" r="14.0" fill="#fff" fill-opacity="0.027"/>
<circle cx="143.3" cy="176.1" r="15.0" fill="url(#gIn)"/>
<circle cx="143.3" cy="176.1" r="15.0" fill="#fff" fill-opacity="0.018"/>
<circle cx="246.8" cy="176.1" r="16.0" fill="url(#gAu)"/>
<circle cx="246.8" cy="176.1" r="16.0" fill="#fff" fill-opacity="0.018"/>
<circle cx="207.0" cy="179.3" r="16.5" fill="url(#gAu)"/>
<circle cx="168.5" cy="181.0" r="16.5" fill="url(#gAu)"/>
</g>
<clipPath id="sc11"><rect x="261.0" y="123.0" width="114.0" height="54.6"/></clipPath>
<g clip-path="url(#sc11)">
<circle cx="270.0" cy="151.2" r="16.0" fill="url(#gIn)"/>
<circle cx="270.0" cy="151.2" r="16.0" fill="#fff" fill-opacity="0.120"/>
<circle cx="355.8" cy="152.3" r="15.0" fill="url(#gIn)"/>
<circle cx="355.8" cy="152.3" r="15.0" fill="#fff" fill-opacity="0.115"/>
<circle cx="310.0" cy="154.0" r="15.0" fill="url(#gIn)"/>
<circle cx="310.0" cy="154.0" r="15.0" fill="#fff" fill-opacity="0.108"/>
<circle cx="277.8" cy="156.7" r="13.0" fill="url(#gAu)"/>
<circle cx="277.8" cy="156.7" r="13.0" fill="#fff" fill-opacity="0.097"/>
<circle cx="325.5" cy="156.9" r="12.0" fill="url(#gAu)"/>
<circle cx="325.5" cy="156.9" r="12.0" fill="#fff" fill-opacity="0.096"/>
<circle cx="367.4" cy="157.9" r="13.0" fill="url(#gAu)"/>
<circle cx="367.4" cy="157.9" r="13.0" fill="#fff" fill-opacity="0.092"/>
<circle cx="293.0" cy="159.5" r="14.0" fill="url(#gIn)"/>
<circle cx="293.0" cy="159.5" r="14.0" fill="#fff" fill-opacity="0.085"/>
<circle cx="342.4" cy="161.1" r="15.0" fill="url(#gIn)"/>
<circle cx="342.4" cy="161.1" r="15.0" fill="#fff" fill-opacity="0.079"/>
<circle cx="308.1" cy="163.8" r="16.0" fill="url(#gAu)"/>
<circle cx="308.1" cy="163.8" r="16.0" fill="#fff" fill-opacity="0.067"/>
<circle cx="266.2" cy="164.9" r="13.0" fill="url(#gAu)"/>
<circle cx="266.2" cy="164.9" r="13.0" fill="#fff" fill-opacity="0.063"/>
<circle cx="354.6" cy="166.6" r="13.0" fill="url(#gAu)"/>
<circle cx="354.6" cy="166.6" r="13.0" fill="#fff" fill-opacity="0.056"/>
<circle cx="371.0" cy="168.2" r="14.0" fill="url(#gIn)"/>
<circle cx="371.0" cy="168.2" r="14.0" fill="#fff" fill-opacity="0.049"/>
<circle cx="283.0" cy="169.2" r="15.0" fill="url(#gIn)"/>
<circle cx="283.0" cy="169.2" r="15.0" fill="#fff" fill-opacity="0.045"/>
<circle cx="328.4" cy="169.2" r="15.0" fill="url(#gIn)"/>
<circle cx="328.4" cy="169.2" r="15.0" fill="#fff" fill-opacity="0.045"/>
<circle cx="341.8" cy="177.4" r="15.0" fill="url(#gAu)"/>
<circle cx="341.8" cy="177.4" r="15.0" fill="#fff" fill-opacity="0.011"/>
<circle cx="294.1" cy="178.0" r="15.0" fill="url(#gAu)"/>
<circle cx="269.7" cy="178.8" r="17.0" fill="url(#gIn)"/>
<circle cx="313.9" cy="180.0" r="17.0" fill="url(#gIn)"/>
<circle cx="359.3" cy="180.0" r="17.0" fill="url(#gIn)"/>
</g>
<clipPath id="sc12"><rect x="383.5" y="123.0" width="112.5" height="54.6"/></clipPath>
<g clip-path="url(#sc12)">
<circle cx="419.6" cy="146.2" r="17.0" fill="url(#gIn)"/>
<circle cx="419.6" cy="146.2" r="17.0" fill="#fff" fill-opacity="0.120"/>
<circle cx="488.3" cy="146.2" r="17.0" fill="url(#gIn)"/>
<circle cx="488.3" cy="146.2" r="17.0" fill="#fff" fill-opacity="0.120"/>
<circle cx="399.2" cy="149.6" r="14.0" fill="url(#gAu)"/>
<circle cx="399.2" cy="149.6" r="14.0" fill="#fff" fill-opacity="0.108"/>
<circle cx="448.7" cy="150.2" r="14.0" fill="url(#gIn)"/>
<circle cx="448.7" cy="150.2" r="14.0" fill="#fff" fill-opacity="0.106"/>
<circle cx="496.0" cy="151.3" r="14.0" fill="url(#gIn)"/>
<circle cx="496.0" cy="151.3" r="14.0" fill="#fff" fill-opacity="0.103"/>
<circle cx="471.4" cy="151.7" r="15.0" fill="url(#gAu)"/>
<circle cx="471.4" cy="151.7" r="15.0" fill="#fff" fill-opacity="0.101"/>
<circle cx="382.0" cy="152.9" r="15.0" fill="url(#gIn)"/>
<circle cx="382.0" cy="152.9" r="15.0" fill="#fff" fill-opacity="0.097"/>
<circle cx="428.9" cy="154.7" r="15.0" fill="url(#gIn)"/>
<circle cx="428.9" cy="154.7" r="15.0" fill="#fff" fill-opacity="0.091"/>
<circle cx="397.5" cy="159.1" r="16.0" fill="url(#gIn)"/>
<circle cx="397.5" cy="159.1" r="16.0" fill="#fff" fill-opacity="0.076"/>
<circle cx="466.7" cy="160.5" r="15.0" fill="url(#gIn)"/>
<circle cx="466.7" cy="160.5" r="15.0" fill="#fff" fill-opacity="0.071"/>
<circle cx="493.0" cy="161.4" r="13.0" fill="url(#gAu)"/>
<circle cx="493.0" cy="161.4" r="13.0" fill="#fff" fill-opacity="0.068"/>
<circle cx="438.0" cy="163.0" r="15.0" fill="url(#gAu)"/>
<circle cx="438.0" cy="163.0" r="15.0" fill="#fff" fill-opacity="0.063"/>
<circle cx="476.6" cy="165.7" r="15.0" fill="url(#gIn)"/>
<circle cx="476.6" cy="165.7" r="15.0" fill="#fff" fill-opacity="0.054"/>
<circle cx="383.5" cy="167.8" r="13.0" fill="url(#gAu)"/>
<circle cx="383.5" cy="167.8" r="13.0" fill="#fff" fill-opacity="0.047"/>
<circle cx="492.3" cy="168.8" r="14.0" fill="url(#gIn)"/>
<circle cx="492.3" cy="168.8" r="14.0" fill="#fff" fill-opacity="0.043"/>
<circle cx="409.1" cy="168.9" r="17.0" fill="url(#gIn)"/>
<circle cx="409.1" cy="168.9" r="17.0" fill="#fff" fill-opacity="0.043"/>
<circle cx="426.6" cy="170.4" r="15.0" fill="url(#gIn)"/>
<circle cx="426.6" cy="170.4" r="15.0" fill="#fff" fill-opacity="0.038"/>
<circle cx="498.0" cy="178.0" r="15.0" fill="url(#gIn)"/>
<circle cx="498.0" cy="178.0" r="15.0" fill="#fff" fill-opacity="0.012"/>
<circle cx="408.0" cy="180.0" r="17.0" fill="url(#gAu)"/>
<circle cx="388.2" cy="180.7" r="16.0" fill="url(#gIn)"/>
<circle cx="477.8" cy="181.1" r="17.0" fill="url(#gAu)"/>
<circle cx="450.0" cy="181.5" r="18.0" fill="url(#gIn)"/>
</g>
<clipPath id="sc13"><rect x="20.0" y="323.0" width="113.0" height="62.6"/></clipPath>
<g clip-path="url(#sc13)">
<circle cx="145.3" cy="356.8" r="17.7" fill="url(#gAu)"/>
<circle cx="145.3" cy="356.8" r="17.7" fill="#fff" fill-opacity="0.120"/>
<circle cx="20.5" cy="358.6" r="17.8" fill="url(#gAu)"/>
<circle cx="20.5" cy="358.6" r="17.8" fill="#fff" fill-opacity="0.115"/>
<circle cx="109.9" cy="359.0" r="17.8" fill="url(#gAu)"/>
<circle cx="109.9" cy="359.0" r="17.8" fill="#fff" fill-opacity="0.114"/>
<circle cx="74.1" cy="361.1" r="17.9" fill="url(#gAu)"/>
<circle cx="74.1" cy="361.1" r="17.9" fill="#fff" fill-opacity="0.107"/>
<circle cx="37.9" cy="363.3" r="18.0" fill="url(#gAu)"/>
<circle cx="37.9" cy="363.3" r="18.0" fill="#fff" fill-opacity="0.100"/>
<circle cx="128.4" cy="363.7" r="18.0" fill="url(#gAu)"/>
<circle cx="128.4" cy="363.7" r="18.0" fill="#fff" fill-opacity="0.099"/>
<circle cx="92.3" cy="365.9" r="18.1" fill="url(#gAu)"/>
<circle cx="92.3" cy="365.9" r="18.1" fill="#fff" fill-opacity="0.093"/>
<circle cx="55.7" cy="368.2" r="18.2" fill="url(#gAu)"/>
<circle cx="55.7" cy="368.2" r="18.2" fill="#fff" fill-opacity="0.086"/>
<circle cx="147.5" cy="368.5" r="18.3" fill="url(#gAu)"/>
<circle cx="147.5" cy="368.5" r="18.3" fill="#fff" fill-opacity="0.085"/>
<circle cx="18.7" cy="370.5" r="18.4" fill="url(#gAu)"/>
<circle cx="18.7" cy="370.5" r="18.4" fill="#fff" fill-opacity="0.079"/>
<circle cx="111.0" cy="370.8" r="18.4" fill="url(#gAu)"/>
<circle cx="111.0" cy="370.8" r="18.4" fill="#fff" fill-opacity="0.078"/>
<circle cx="74.0" cy="373.1" r="18.5" fill="url(#gAu)"/>
<circle cx="74.0" cy="373.1" r="18.5" fill="#fff" fill-opacity="0.071"/>
<circle cx="36.6" cy="375.5" r="18.6" fill="url(#gAu)"/>
<circle cx="36.6" cy="375.5" r="18.6" fill="#fff" fill-opacity="0.064"/>
<circle cx="130.2" cy="375.9" r="18.6" fill="url(#gAu)"/>
<circle cx="130.2" cy="375.9" r="18.6" fill="#fff" fill-opacity="0.063"/>
<circle cx="92.8" cy="378.2" r="18.7" fill="url(#gAu)"/>
<circle cx="92.8" cy="378.2" r="18.7" fill="#fff" fill-opacity="0.055"/>
<circle cx="55.0" cy="380.7" r="18.8" fill="url(#gAu)"/>
<circle cx="55.0" cy="380.7" r="18.8" fill="#fff" fill-opacity="0.048"/>
<circle cx="149.8" cy="381.0" r="18.9" fill="url(#gAu)"/>
<circle cx="149.8" cy="381.0" r="18.9" fill="#fff" fill-opacity="0.047"/>
<circle cx="16.8" cy="383.1" r="19.0" fill="url(#gAu)"/>
<circle cx="16.8" cy="383.1" r="19.0" fill="#fff" fill-opacity="0.041"/>
<circle cx="112.1" cy="383.5" r="19.0" fill="url(#gAu)"/>
<circle cx="112.1" cy="383.5" r="19.0" fill="#fff" fill-opacity="0.040"/>
<circle cx="74.0" cy="386.0" r="19.1" fill="url(#gAu)"/>
<circle cx="74.0" cy="386.0" r="19.1" fill="#fff" fill-opacity="0.032"/>
<circle cx="35.3" cy="388.5" r="19.2" fill="url(#gAu)"/>
<circle cx="35.3" cy="388.5" r="19.2" fill="#fff" fill-opacity="0.025"/>
<circle cx="132.0" cy="388.9" r="19.2" fill="url(#gAu)"/>
<circle cx="132.0" cy="388.9" r="19.2" fill="#fff" fill-opacity="0.023"/>
<circle cx="93.4" cy="391.4" r="19.4" fill="url(#gAu)"/>
<circle cx="93.4" cy="391.4" r="19.4" fill="#fff" fill-opacity="0.016"/>
<circle cx="54.3" cy="394.0" r="19.5" fill="url(#gAu)"/>
<circle cx="14.7" cy="396.6" r="19.6" fill="url(#gAu)"/>
</g>
<clipPath id="sc14"><rect x="140.5" y="323.0" width="113.0" height="62.6"/></clipPath>
<g clip-path="url(#sc14)">
<circle cx="244.9" cy="350.2" r="14.0" fill="url(#gAu)"/>
<circle cx="244.9" cy="350.2" r="14.0" fill="#fff" fill-opacity="0.120"/>
<circle cx="193.8" cy="352.6" r="14.0" fill="url(#gAu)"/>
<circle cx="193.8" cy="352.6" r="14.0" fill="#fff" fill-opacity="0.113"/>
<circle cx="215.0" cy="353.0" r="14.0" fill="url(#gAu)"/>
<circle cx="215.0" cy="353.0" r="14.0" fill="#fff" fill-opacity="0.112"/>
<circle cx="165.3" cy="353.8" r="14.0" fill="url(#gIn)"/>
<circle cx="165.3" cy="353.8" r="14.0" fill="#fff" fill-opacity="0.109"/>
<circle cx="161.8" cy="354.5" r="13.0" fill="url(#gAu)"/>
<circle cx="161.8" cy="354.5" r="13.0" fill="#fff" fill-opacity="0.107"/>
<circle cx="237.8" cy="355.3" r="12.0" fill="url(#gIn)"/>
<circle cx="237.8" cy="355.3" r="12.0" fill="#fff" fill-opacity="0.105"/>
<circle cx="151.1" cy="357.9" r="14.0" fill="url(#gIn)"/>
<circle cx="151.1" cy="357.9" r="14.0" fill="#fff" fill-opacity="0.097"/>
<circle cx="142.8" cy="363.4" r="13.0" fill="url(#gAu)"/>
<circle cx="142.8" cy="363.4" r="13.0" fill="#fff" fill-opacity="0.081"/>
<circle cx="239.0" cy="364.3" r="15.0" fill="url(#gAu)"/>
<circle cx="239.0" cy="364.3" r="15.0" fill="#fff" fill-opacity="0.078"/>
<circle cx="187.9" cy="364.4" r="14.0" fill="url(#gAu)"/>
<circle cx="187.9" cy="364.4" r="14.0" fill="#fff" fill-opacity="0.078"/>
<circle cx="214.0" cy="364.8" r="12.0" fill="url(#gIn)"/>
<circle cx="214.0" cy="364.8" r="12.0" fill="#fff" fill-opacity="0.077"/>
<circle cx="163.0" cy="365.6" r="14.0" fill="url(#gAu)"/>
<circle cx="163.0" cy="365.6" r="14.0" fill="#fff" fill-opacity="0.074"/>
<circle cx="199.8" cy="365.8" r="13.0" fill="url(#gAu)"/>
<circle cx="199.8" cy="365.8" r="13.0" fill="#fff" fill-opacity="0.074"/>
<circle cx="145.1" cy="374.5" r="14.0" fill="url(#gAu)"/>
<circle cx="145.1" cy="374.5" r="14.0" fill="#fff" fill-opacity="0.048"/>
<circle cx="187.9" cy="374.5" r="14.0" fill="url(#gIn)"/>
<circle cx="187.9" cy="374.5" r="14.0" fill="#fff" fill-opacity="0.048"/>
<circle cx="220.0" cy="375.0" r="15.0" fill="url(#gAu)"/>
<circle cx="220.0" cy="375.0" r="15.0" fill="#fff" fill-opacity="0.047"/>
<circle cx="171.3" cy="377.1" r="13.0" fill="url(#gAu)"/>
<circle cx="171.3" cy="377.1" r="13.0" fill="#fff" fill-opacity="0.040"/>
<circle cx="145.1" cy="378.7" r="17.0" fill="url(#gAu)"/>
<circle cx="145.1" cy="378.7" r="17.0" fill="#fff" fill-opacity="0.036"/>
<circle cx="212.8" cy="378.9" r="13.0" fill="url(#gAu)"/>
<circle cx="212.8" cy="378.9" r="13.0" fill="#fff" fill-opacity="0.035"/>
<circle cx="246.1" cy="379.9" r="14.0" fill="url(#gIn)"/>
<circle cx="246.1" cy="379.9" r="14.0" fill="#fff" fill-opacity="0.032"/>
<circle cx="231.8" cy="382.6" r="12.0" fill="url(#gAu)"/>
<circle cx="231.8" cy="382.6" r="12.0" fill="#fff" fill-opacity="0.024"/>
<circle cx="190.3" cy="384.9" r="16.0" fill="url(#gAu)"/>
<circle cx="190.3" cy="384.9" r="16.0" fill="#fff" fill-opacity="0.017"/>
<circle cx="163.5" cy="385.5" r="16.0" fill="url(#gIn)"/>
<circle cx="163.5" cy="385.5" r="16.0" fill="#fff" fill-opacity="0.016"/>
<circle cx="250.8" cy="388.2" r="14.0" fill="url(#gAu)"/>
<circle cx="223.5" cy="390.8" r="16.0" fill="url(#gIn)"/>
</g>
<clipPath id="sc15"><rect x="261.0" y="323.0" width="113.0" height="62.6"/></clipPath>
<g clip-path="url(#sc15)">
<circle cx="285.3" cy="360.5" r="16.0" fill="url(#gIn)"/>
<circle cx="285.3" cy="360.5" r="16.0" fill="#fff" fill-opacity="0.120"/>
<circle cx="374.4" cy="360.7" r="15.0" fill="url(#gIn)"/>
<circle cx="374.4" cy="360.7" r="15.0" fill="#fff" fill-opacity="0.119"/>
<circle cx="334.0" cy="362.7" r="17.0" fill="url(#gIn)"/>
<circle cx="334.0" cy="362.7" r="17.0" fill="#fff" fill-opacity="0.112"/>
<circle cx="264.0" cy="365.8" r="13.0" fill="url(#gAu)"/>
<circle cx="264.0" cy="365.8" r="13.0" fill="#fff" fill-opacity="0.102"/>
<circle cx="356.6" cy="367.0" r="13.0" fill="url(#gAu)"/>
<circle cx="356.6" cy="367.0" r="13.0" fill="#fff" fill-opacity="0.097"/>
<circle cx="280.6" cy="371.4" r="15.0" fill="url(#gIn)"/>
<circle cx="280.6" cy="371.4" r="15.0" fill="#fff" fill-opacity="0.082"/>
<circle cx="370.8" cy="371.6" r="14.0" fill="url(#gIn)"/>
<circle cx="370.8" cy="371.6" r="14.0" fill="#fff" fill-opacity="0.082"/>
<circle cx="305.5" cy="372.6" r="18.0" fill="url(#gAu)"/>
<circle cx="305.5" cy="372.6" r="18.0" fill="#fff" fill-opacity="0.078"/>
<circle cx="262.8" cy="377.7" r="13.0" fill="url(#gAu)"/>
<circle cx="262.8" cy="377.7" r="13.0" fill="#fff" fill-opacity="0.060"/>
<circle cx="348.3" cy="378.5" r="18.0" fill="url(#gAu)"/>
<circle cx="348.3" cy="378.5" r="18.0" fill="#fff" fill-opacity="0.058"/>
<circle cx="367.3" cy="383.3" r="15.0" fill="url(#gIn)"/>
<circle cx="367.3" cy="383.3" r="15.0" fill="#fff" fill-opacity="0.041"/>
<circle cx="323.3" cy="383.4" r="14.0" fill="url(#gIn)"/>
<circle cx="323.3" cy="383.4" r="14.0" fill="#fff" fill-opacity="0.041"/>
<circle cx="275.8" cy="383.7" r="16.0" fill="url(#gIn)"/>
<circle cx="275.8" cy="383.7" r="16.0" fill="#fff" fill-opacity="0.040"/>
<circle cx="317.4" cy="384.5" r="15.0" fill="url(#gIn)"/>
<circle cx="317.4" cy="384.5" r="15.0" fill="#fff" fill-opacity="0.037"/>
<circle cx="347.1" cy="391.2" r="14.0" fill="url(#gAu)"/>
<circle cx="347.1" cy="391.2" r="14.0" fill="#fff" fill-opacity="0.014"/>
<circle cx="294.8" cy="392.2" r="15.0" fill="url(#gAu)"/>
<circle cx="294.8" cy="392.2" r="15.0" fill="#fff" fill-opacity="0.010"/>
<circle cx="366.0" cy="392.8" r="15.0" fill="url(#gIn)"/>
<circle cx="269.9" cy="394.0" r="15.0" fill="url(#gIn)"/>
<circle cx="324.5" cy="395.1" r="15.0" fill="url(#gIn)"/>
</g>
<clipPath id="sc16"><rect x="382.5" y="323.0" width="112.5" height="62.6"/></clipPath>
<g clip-path="url(#sc16)">
<circle cx="390.7" cy="355.3" r="15.0" fill="url(#gIn)"/>
<circle cx="390.7" cy="355.3" r="15.0" fill="#fff" fill-opacity="0.120"/>
<circle cx="386.0" cy="360.1" r="12.0" fill="url(#gAu)"/>
<circle cx="386.0" cy="360.1" r="12.0" fill="#fff" fill-opacity="0.105"/>
<circle cx="458.4" cy="360.3" r="14.0" fill="url(#gIn)"/>
<circle cx="458.4" cy="360.3" r="14.0" fill="#fff" fill-opacity="0.104"/>
<circle cx="491.7" cy="360.9" r="14.0" fill="url(#gIn)"/>
<circle cx="491.7" cy="360.9" r="14.0" fill="#fff" fill-opacity="0.103"/>
<circle cx="489.3" cy="363.4" r="13.0" fill="url(#gAu)"/>
<circle cx="489.3" cy="363.4" r="13.0" fill="#fff" fill-opacity="0.095"/>
<circle cx="410.9" cy="363.5" r="16.0" fill="url(#gIn)"/>
<circle cx="410.9" cy="363.5" r="16.0" fill="#fff" fill-opacity="0.095"/>
<circle cx="478.6" cy="368.8" r="16.0" fill="url(#gIn)"/>
<circle cx="478.6" cy="368.8" r="16.0" fill="#fff" fill-opacity="0.078"/>
<circle cx="447.0" cy="371.0" r="14.0" fill="url(#gAu)"/>
<circle cx="447.0" cy="371.0" r="14.0" fill="#fff" fill-opacity="0.071"/>
<circle cx="426.3" cy="372.8" r="17.0" fill="url(#gAu)"/>
<circle cx="426.3" cy="372.8" r="17.0" fill="#fff" fill-opacity="0.066"/>
<circle cx="394.3" cy="373.6" r="16.0" fill="url(#gIn)"/>
<circle cx="394.3" cy="373.6" r="16.0" fill="#fff" fill-opacity="0.063"/>
<circle cx="445.3" cy="374.1" r="13.0" fill="url(#gIn)"/>
<circle cx="445.3" cy="374.1" r="13.0" fill="#fff" fill-opacity="0.062"/>
<circle cx="467.9" cy="375.2" r="17.0" fill="url(#gAu)"/>
<circle cx="467.9" cy="375.2" r="17.0" fill="#fff" fill-opacity="0.058"/>
<circle cx="494.0" cy="376.3" r="14.0" fill="url(#gIn)"/>
<circle cx="494.0" cy="376.3" r="14.0" fill="#fff" fill-opacity="0.055"/>
<circle cx="462.0" cy="380.5" r="14.0" fill="url(#gIn)"/>
<circle cx="462.0" cy="380.5" r="14.0" fill="#fff" fill-opacity="0.042"/>
<circle cx="419.2" cy="381.5" r="15.0" fill="url(#gIn)"/>
<circle cx="419.2" cy="381.5" r="15.0" fill="#fff" fill-opacity="0.039"/>
<circle cx="380.0" cy="382.3" r="14.0" fill="url(#gIn)"/>
<circle cx="380.0" cy="382.3" r="14.0" fill="#fff" fill-opacity="0.036"/>
<circle cx="453.6" cy="385.6" r="15.0" fill="url(#gAu)"/>
<circle cx="453.6" cy="385.6" r="15.0" fill="#fff" fill-opacity="0.026"/>
<circle cx="482.1" cy="387.5" r="18.0" fill="url(#gIn)"/>
<circle cx="482.1" cy="387.5" r="18.0" fill="#fff" fill-opacity="0.020"/>
<circle cx="409.7" cy="388.0" r="15.0" fill="url(#gAu)"/>
<circle cx="409.7" cy="388.0" r="15.0" fill="#fff" fill-opacity="0.019"/>
<circle cx="434.7" cy="388.0" r="15.0" fill="url(#gIn)"/>
<circle cx="434.7" cy="388.0" r="15.0" fill="#fff" fill-opacity="0.019"/>
<circle cx="395.4" cy="394.0" r="15.0" fill="url(#gIn)"/>
</g>
<line x1="65.6" y1="70.0" x2="65.3" y2="73.2" stroke="#111" stroke-width="2.2"/><line x1="65.3" y1="73.2" x2="65.0" y2="76.5" stroke="#e8b030" stroke-width="2.2"/>
<line x1="77.0" y1="68.5" x2="81.0" y2="71.0" stroke="#f4f4f4" stroke-width="3.0"/>
<circle cx="78.3" cy="54.6" r="5.3" fill="url(#gH)"/>
<circle cx="53.7" cy="58.7" r="5.5" fill="url(#gH)"/>
<circle cx="98.9" cy="58.7" r="5.8" fill="url(#gH)"/>
<circle cx="67.4" cy="64.8" r="7.2" fill="url(#gC)"/>
<circle cx="83.8" cy="63.0" r="7.2" fill="url(#gC)"/>
<circle cx="73.3" cy="61.4" r="5.8" fill="url(#gH)"/>
<line x1="83.5" y1="66.6" x2="85.4" y2="75.0" stroke="#ff1a1a" stroke-width="2.2"/><polygon points="82.4,61.9 80.5,68.5 87.0,67.0" fill="#ff1a1a"/><polygon points="86.5,79.7 81.9,74.6 88.4,73.1" fill="#ff1a1a"/>
<line x1="186.0" y1="66.0" x2="185.8" y2="69.3" stroke="#111" stroke-width="2.2"/><line x1="185.8" y1="69.3" x2="185.5" y2="72.7" stroke="#e8b030" stroke-width="2.2"/>
<circle cx="193.8" cy="50.7" r="5.3" fill="url(#gH)"/>
<circle cx="173.7" cy="55.8" r="5.4" fill="url(#gH)"/>
<circle cx="215.9" cy="54.8" r="5.4" fill="url(#gH)"/>
<circle cx="188.1" cy="59.4" r="6.9" fill="url(#gC)"/>
<circle cx="203.5" cy="60.4" r="6.9" fill="url(#gC)"/>
<circle cx="195.8" cy="57.8" r="5.6" fill="url(#gH)"/>
<line x1="202.9" y1="66.7" x2="204.7" y2="77.3" stroke="#ff1a1a" stroke-width="2.2"/><polygon points="202.0,62.0 199.8,68.5 206.3,67.3" fill="#ff1a1a"/><polygon points="205.6,82.0 201.3,76.7 207.8,75.5" fill="#ff1a1a"/>
<line x1="306.0" y1="65.0" x2="306.8" y2="69.9" stroke="#111" stroke-width="2.2"/><line x1="306.8" y1="69.9" x2="307.6" y2="74.8" stroke="#e8b030" stroke-width="2.2"/>
<circle cx="316.3" cy="52.2" r="4.8" fill="url(#gH)"/>
<circle cx="290.7" cy="57.3" r="5.3" fill="url(#gH)"/>
<circle cx="333.3" cy="56.3" r="5.3" fill="url(#gH)"/>
<circle cx="303.5" cy="58.4" r="6.3" fill="url(#gC)"/>
<circle cx="306.6" cy="59.4" r="5.4" fill="url(#gH)"/>
<circle cx="319.4" cy="57.8" r="7.0" fill="url(#gC)"/>
<line x1="318.0" y1="63.1" x2="315.2" y2="77.3" stroke="#ff1a1a" stroke-width="2.2"/><polygon points="318.9,58.4 314.5,63.7 321.0,64.9" fill="#ff1a1a"/><polygon points="314.3,82.0 312.2,75.5 318.7,76.7" fill="#ff1a1a"/>
<line x1="449.6" y1="68.0" x2="449.1" y2="71.9" stroke="#111" stroke-width="2.2"/><line x1="449.1" y1="71.9" x2="448.5" y2="75.8" stroke="#e8b030" stroke-width="2.2"/>
<line x1="436.0" y1="61.5" x2="451.0" y2="62.0" stroke="#111" stroke-width="3.0"/>
<circle cx="431.6" cy="55.8" r="4.3" fill="url(#gH)"/>
<circle cx="423.9" cy="60.4" r="4.9" fill="url(#gH)"/>
<circle cx="462.9" cy="58.4" r="4.9" fill="url(#gH)"/>
<circle cx="434.7" cy="61.4" r="6.0" fill="url(#gC)"/>
<circle cx="451.1" cy="62.0" r="5.6" fill="url(#gC)"/>
<circle cx="454.7" cy="63.0" r="4.9" fill="url(#gH)"/>
<line x1="436.6" y1="67.1" x2="440.5" y2="79.4" stroke="#ff1a1a" stroke-width="2.2"/><polygon points="435.2,62.5 433.8,69.2 440.1,67.2" fill="#ff1a1a"/><polygon points="441.9,84.0 437.0,79.3 443.3,77.3" fill="#ff1a1a"/>
<line x1="42.0" y1="277.0" x2="41.5" y2="280.1" stroke="#111" stroke-width="2.2"/><line x1="41.5" y1="280.1" x2="41.0" y2="283.3" stroke="#e8b030" stroke-width="2.2"/>
<line x1="58.0" y1="285.0" x2="57.5" y2="286.8" stroke="#111" stroke-width="2.2"/><line x1="57.5" y1="286.8" x2="57.0" y2="288.5" stroke="#e8b030" stroke-width="2.2"/>
<line x1="66.0" y1="285.0" x2="67.0" y2="286.8" stroke="#111" stroke-width="2.2"/><line x1="67.0" y1="286.8" x2="68.0" y2="288.5" stroke="#e8b030" stroke-width="2.2"/>
<line x1="88.5" y1="279.5" x2="87.8" y2="282.1" stroke="#111" stroke-width="2.2"/><line x1="87.8" y1="282.1" x2="87.2" y2="284.8" stroke="#e8b030" stroke-width="2.2"/>
<line x1="99.5" y1="279.0" x2="102.1" y2="282.4" stroke="#111" stroke-width="2.2"/><line x1="102.1" y1="282.4" x2="104.7" y2="285.8" stroke="#e8b030" stroke-width="2.2"/>
<line x1="109.8" y1="278.0" x2="111.3" y2="280.4" stroke="#111" stroke-width="2.2"/><line x1="111.3" y1="280.4" x2="112.9" y2="282.7" stroke="#e8b030" stroke-width="2.2"/>
<line x1="45.0" y1="271.0" x2="61.5" y2="279.7" stroke="#111" stroke-width="3.0"/>
<line x1="92.8" y1="274.0" x2="107.2" y2="270.4" stroke="#111" stroke-width="3.0"/>
<circle cx="33.2" cy="262.7" r="5.9" fill="url(#gH)"/>
<circle cx="48.6" cy="263.2" r="5.9" fill="url(#gH)"/>
<circle cx="45.0" cy="270.9" r="7.3" fill="url(#gC)"/>
<circle cx="61.5" cy="279.7" r="7.0" fill="url(#gC)"/>
<circle cx="66.1" cy="271.4" r="6.0" fill="url(#gH)"/>
<circle cx="92.3" cy="263.2" r="5.4" fill="url(#gH)"/>
<circle cx="117.5" cy="258.1" r="5.9" fill="url(#gH)"/>
<circle cx="107.2" cy="270.4" r="7.3" fill="url(#gC)"/>
<circle cx="92.8" cy="274.0" r="7.0" fill="url(#gC)"/>
<circle cx="103.1" cy="274.5" r="6.5" fill="url(#gH)"/>
<line x1="66.7" y1="278.7" x2="87.6" y2="275.0" stroke="#ff1a1a" stroke-width="2.2"/><polygon points="62.0,279.6 68.5,281.8 67.3,275.3" fill="#ff1a1a"/><polygon points="92.3,274.1 87.0,278.4 85.8,271.9" fill="#ff1a1a"/>
<line x1="170.5" y1="272.0" x2="170.2" y2="275.9" stroke="#111" stroke-width="2.2"/><line x1="170.2" y1="275.9" x2="170.0" y2="279.8" stroke="#e8b030" stroke-width="2.2"/>
<line x1="186.0" y1="278.0" x2="187.2" y2="280.4" stroke="#111" stroke-width="2.2"/><line x1="187.2" y1="280.4" x2="188.5" y2="282.9" stroke="#e8b030" stroke-width="2.2"/>
<line x1="209.2" y1="277.0" x2="208.2" y2="279.4" stroke="#111" stroke-width="2.2"/><line x1="208.2" y1="279.4" x2="207.2" y2="281.9" stroke="#e8b030" stroke-width="2.2"/>
<line x1="219.5" y1="277.0" x2="221.6" y2="279.9" stroke="#111" stroke-width="2.2"/><line x1="221.6" y1="279.9" x2="223.6" y2="282.9" stroke="#e8b030" stroke-width="2.2"/>
<line x1="231.5" y1="272.0" x2="232.2" y2="276.1" stroke="#111" stroke-width="2.2"/><line x1="232.2" y1="276.1" x2="232.9" y2="280.3" stroke="#e8b030" stroke-width="2.2"/>
<line x1="171.1" y1="265.4" x2="182.4" y2="273.6" stroke="#111" stroke-width="3.0"/>
<line x1="213.9" y1="272.1" x2="228.8" y2="266.4" stroke="#111" stroke-width="3.0"/>
<circle cx="159.8" cy="256.2" r="5.4" fill="url(#gH)"/>
<circle cx="171.1" cy="265.4" r="6.5" fill="url(#gC)"/>
<circle cx="182.4" cy="273.6" r="6.5" fill="url(#gC)"/>
<circle cx="180.3" cy="265.4" r="5.9" fill="url(#gH)"/>
<circle cx="211.3" cy="262.3" r="5.4" fill="url(#gH)"/>
<circle cx="238.5" cy="254.6" r="5.4" fill="url(#gH)"/>
<circle cx="228.8" cy="266.4" r="6.5" fill="url(#gC)"/>
<circle cx="213.9" cy="272.1" r="6.5" fill="url(#gC)"/>
<circle cx="228.3" cy="270.5" r="5.9" fill="url(#gH)"/>
<line x1="187.8" y1="272.9" x2="208.8" y2="272.3" stroke="#ff1a1a" stroke-width="2.2"/><polygon points="183.0,273.1 189.1,276.2 188.9,269.6" fill="#ff1a1a"/><polygon points="213.6,272.1 207.7,275.6 207.5,269.0" fill="#ff1a1a"/>
<line x1="300.8" y1="279.0" x2="301.1" y2="280.9" stroke="#111" stroke-width="2.2"/><line x1="301.1" y1="280.9" x2="301.4" y2="282.7" stroke="#e8b030" stroke-width="2.2"/>
<line x1="319.6" y1="286.5" x2="319.1" y2="288.0" stroke="#111" stroke-width="2.2"/><line x1="319.1" y1="288.0" x2="318.6" y2="289.5" stroke="#e8b030" stroke-width="2.2"/>
<line x1="344.3" y1="283.0" x2="344.8" y2="285.9" stroke="#111" stroke-width="2.2"/><line x1="344.8" y1="285.9" x2="345.3" y2="288.9" stroke="#e8b030" stroke-width="2.2"/>
<line x1="289.5" y1="260.7" x2="297.6" y2="273.9" stroke="#111" stroke-width="3.0"/>
<line x1="326.8" y1="280.7" x2="342.2" y2="276.1" stroke="#111" stroke-width="3.0"/>
<circle cx="284.4" cy="247.5" r="4.8" fill="url(#gH)"/>
<circle cx="284.4" cy="262.6" r="4.3" fill="url(#gH)"/>
<circle cx="289.5" cy="260.7" r="5.7" fill="url(#gC)"/>
<circle cx="297.6" cy="273.9" r="5.7" fill="url(#gC)"/>
<circle cx="302.6" cy="270.1" r="4.8" fill="url(#gH)"/>
<circle cx="325.8" cy="270.9" r="4.8" fill="url(#gH)"/>
<circle cx="351.5" cy="264.8" r="5.2" fill="url(#gH)"/>
<circle cx="342.2" cy="276.1" r="5.7" fill="url(#gC)"/>
<circle cx="326.8" cy="280.7" r="5.7" fill="url(#gC)"/>
<circle cx="341.7" cy="279.2" r="5.2" fill="url(#gH)"/>
<line x1="305.5" y1="277.3" x2="322.3" y2="280.3" stroke="#ff1a1a" stroke-width="2.2"/><polygon points="300.8,276.4 306.1,280.7 307.3,274.2" fill="#ff1a1a"/><polygon points="327.0,281.2 320.5,283.4 321.7,276.9" fill="#ff1a1a"/>
<line x1="422.0" y1="279.5" x2="422.3" y2="281.4" stroke="#111" stroke-width="2.2"/><line x1="422.3" y1="281.4" x2="422.6" y2="283.3" stroke="#e8b030" stroke-width="2.2"/>
<line x1="440.7" y1="282.0" x2="439.9" y2="283.8" stroke="#111" stroke-width="2.2"/><line x1="439.9" y1="283.8" x2="439.1" y2="285.5" stroke="#e8b030" stroke-width="2.2"/>
<line x1="464.3" y1="277.0" x2="464.6" y2="281.0" stroke="#111" stroke-width="2.2"/><line x1="464.6" y1="281.0" x2="464.8" y2="285.0" stroke="#e8b030" stroke-width="2.2"/>
<line x1="407.6" y1="260.1" x2="417.0" y2="273.3" stroke="#111" stroke-width="3.0"/>
<line x1="446.3" y1="276.7" x2="461.7" y2="270.6" stroke="#111" stroke-width="3.0"/>
<circle cx="402.6" cy="247.5" r="4.8" fill="url(#gH)"/>
<circle cx="401.9" cy="262.6" r="4.3" fill="url(#gH)"/>
<circle cx="407.6" cy="260.1" r="5.7" fill="url(#gC)"/>
<circle cx="417.0" cy="273.3" r="5.7" fill="url(#gC)"/>
<circle cx="423.3" cy="267.6" r="4.8" fill="url(#gH)"/>
<circle cx="442.7" cy="268.5" r="4.8" fill="url(#gH)"/>
<circle cx="470.5" cy="259.3" r="5.2" fill="url(#gH)"/>
<circle cx="461.7" cy="270.6" r="5.7" fill="url(#gC)"/>
<circle cx="446.3" cy="276.7" r="5.7" fill="url(#gC)"/>
<circle cx="462.8" cy="272.1" r="5.2" fill="url(#gH)"/>
<line x1="423.7" y1="274.5" x2="441.5" y2="276.9" stroke="#ff1a1a" stroke-width="2.2"/><polygon points="418.9,273.9 424.4,278.0 425.3,271.4" fill="#ff1a1a"/><polygon points="446.3,277.5 439.9,280.0 440.8,273.4" fill="#ff1a1a"/>
<ellipse cx="75.8" cy="124.1" rx="9.5" ry="7.7" fill="url(#gR)" fill-opacity="0.92"/>
<ellipse cx="62.1" cy="128.7" rx="6.8" ry="4.7" fill="url(#gG)" fill-opacity="0.92" transform="rotate(-15.0 62.1 128.7)"/>
<ellipse cx="89.5" cy="127.6" rx="5.2" ry="5.2" fill="url(#gG)" fill-opacity="0.92"/>
<ellipse cx="63.3" cy="149.3" rx="11.4" ry="6.2" fill="url(#gG)" fill-opacity="0.92"/>
<ellipse cx="90.7" cy="148.1" rx="7.3" ry="6.2" fill="url(#gG)" fill-opacity="0.92"/>
<ellipse cx="61.0" cy="138.4" rx="12.5" ry="3.6" fill="url(#gD)" fill-opacity="0.92" transform="rotate(15.0 61.0 138.4)"/>
<ellipse cx="94.1" cy="138.4" rx="7.3" ry="3.1" fill="url(#gD)" fill-opacity="0.92" transform="rotate(-10.0 94.1 138.4)"/>
<ellipse cx="78.1" cy="150.4" rx="5.2" ry="9.9" fill="url(#gO)" fill-opacity="0.92" transform="rotate(-10.0 78.1 150.4)"/>
<circle cx="51.9" cy="131.0" r="4.8" fill="url(#gH)"/>
<circle cx="82.7" cy="136.1" r="5.2" fill="url(#gC)"/>
<circle cx="73.0" cy="134.4" r="5.2" fill="url(#gH)"/>
<circle cx="98.7" cy="132.1" r="5.2" fill="url(#gH)"/>
<ellipse cx="194.7" cy="120.8" rx="8.3" ry="6.2" fill="url(#gR)" fill-opacity="0.92"/>
<ellipse cx="182.7" cy="125.4" rx="5.2" ry="5.2" fill="url(#gG)" fill-opacity="0.92"/>
<ellipse cx="205.0" cy="126.0" rx="8.3" ry="4.7" fill="url(#gG)" fill-opacity="0.92"/>
<ellipse cx="182.1" cy="143.1" rx="8.3" ry="5.7" fill="url(#gG)" fill-opacity="0.92"/>
<ellipse cx="205.0" cy="144.3" rx="9.4" ry="6.2" fill="url(#gG)" fill-opacity="0.92"/>
<ellipse cx="178.7" cy="134.0" rx="5.2" ry="2.6" fill="url(#gD)" fill-opacity="0.92"/>
<ellipse cx="209.5" cy="134.0" rx="8.3" ry="3.1" fill="url(#gD)" fill-opacity="0.92"/>
<ellipse cx="191.3" cy="143.1" rx="4.2" ry="6.2" fill="url(#gM)" fill-opacity="0.92"/>
<ellipse cx="192.4" cy="150.0" rx="3.1" ry="4.7" fill="url(#gO)" fill-opacity="0.92"/>
<circle cx="173.6" cy="129.4" r="5.2" fill="url(#gH)"/>
<circle cx="187.8" cy="132.8" r="5.2" fill="url(#gC)"/>
<circle cx="195.8" cy="131.7" r="5.2" fill="url(#gH)"/>
<circle cx="216.4" cy="128.3" r="5.2" fill="url(#gH)"/>
<ellipse cx="310.8" cy="121.4" rx="6.2" ry="4.2" fill="url(#gR)" fill-opacity="0.92"/>
<ellipse cx="302.8" cy="146.5" rx="6.2" ry="5.2" fill="url(#gG)" fill-opacity="0.92"/>
<ellipse cx="319.4" cy="144.8" rx="6.2" ry="5.2" fill="url(#gG)" fill-opacity="0.92"/>
<ellipse cx="309.7" cy="137.4" rx="10.9" ry="4.0" fill="url(#gD)" fill-opacity="0.92"/>
<circle cx="289.7" cy="130.6" r="5.2" fill="url(#gH)"/>
<circle cx="300.5" cy="132.0" r="5.2" fill="url(#gC)"/>
<circle cx="317.7" cy="131.1" r="5.8" fill="url(#gC)"/>
<circle cx="332.5" cy="130.0" r="5.2" fill="url(#gH)"/>
<ellipse cx="299.5" cy="129.0" rx="4.4" ry="3.3" fill="url(#gG)" fill-opacity="0.80" transform="rotate(-10.0 299.5 129.0)"/>
<ellipse cx="322.5" cy="127.6" rx="4.4" ry="3.7" fill="url(#gG)" fill-opacity="0.80" transform="rotate(10.0 322.5 127.6)"/>
<circle cx="305.7" cy="132.8" r="5.0" fill="url(#gH)"/>
<ellipse cx="443.8" cy="125.4" rx="5.7" ry="4.2" fill="url(#gR)" fill-opacity="0.92"/>
<ellipse cx="434.1" cy="147.7" rx="5.7" ry="5.2" fill="url(#gG)" fill-opacity="0.92"/>
<ellipse cx="454.1" cy="148.8" rx="6.2" ry="5.7" fill="url(#gG)" fill-opacity="0.92"/>
<ellipse cx="443.8" cy="140.3" rx="13.5" ry="4.2" fill="url(#gD)" fill-opacity="0.92"/>
<ellipse cx="443.8" cy="140.8" rx="5.7" ry="2.9" fill="url(#gM)" fill-opacity="0.92"/>
<line x1="436.4" y1="134.6" x2="450.7" y2="134.6" stroke="#111" stroke-width="3.0"/>
<circle cx="463.8" cy="132.3" r="4.7" fill="url(#gH)"/>
<circle cx="425.0" cy="134.6" r="4.7" fill="url(#gH)"/>
<circle cx="436.4" cy="134.6" r="4.7" fill="url(#gC)"/>
<circle cx="450.7" cy="134.6" r="4.7" fill="url(#gC)"/>
<ellipse cx="433.2" cy="131.0" rx="4.0" ry="3.7" fill="url(#gG)" fill-opacity="0.80" transform="rotate(-10.0 433.2 131.0)"/>
<ellipse cx="455.0" cy="131.5" rx="4.0" ry="3.1" fill="url(#gG)" fill-opacity="0.80" transform="rotate(10.0 455.0 131.5)"/>
<circle cx="455.8" cy="136.3" r="4.7" fill="url(#gH)"/>
<ellipse cx="36.3" cy="354.8" rx="10.0" ry="7.5" fill="url(#gG)" fill-opacity="0.85"/>
<ellipse cx="61.0" cy="360.0" rx="10.0" ry="6.2" fill="url(#gG)" fill-opacity="0.85"/>
<ellipse cx="89.4" cy="354.8" rx="7.5" ry="7.5" fill="url(#gG)" fill-opacity="0.85"/>
<ellipse cx="117.1" cy="354.8" rx="12.5" ry="7.5" fill="url(#gG)" fill-opacity="0.85"/>
<ellipse cx="48.6" cy="355.8" rx="6.2" ry="6.2" fill="url(#gO)" fill-opacity="0.85"/>
<ellipse cx="100.7" cy="357.9" rx="7.5" ry="7.5" fill="url(#gO)" fill-opacity="0.85"/>
<ellipse cx="77.4" cy="351.7" rx="7.5" ry="8.8" fill="url(#gO)" fill-opacity="0.85"/>
<ellipse cx="45.5" cy="335.3" rx="7.5" ry="6.2" fill="url(#gG)" fill-opacity="0.85"/>
<ellipse cx="57.9" cy="338.4" rx="10.0" ry="10.0" fill="url(#gR)" fill-opacity="0.85"/>
<ellipse cx="37.3" cy="344.0" rx="5.0" ry="3.8" fill="url(#gR)" fill-opacity="0.85"/>
<ellipse cx="70.2" cy="342.5" rx="6.2" ry="6.2" fill="url(#gG)" fill-opacity="0.85"/>
<ellipse cx="64.0" cy="352.7" rx="7.5" ry="6.2" fill="url(#gD)" fill-opacity="0.85"/>
<ellipse cx="95.5" cy="336.3" rx="8.8" ry="8.8" fill="url(#gR)" fill-opacity="0.85"/>
<ellipse cx="87.3" cy="340.4" rx="5.0" ry="5.0" fill="url(#gG)" fill-opacity="0.85"/>
<ellipse cx="106.9" cy="338.4" rx="8.8" ry="5.0" fill="url(#gG)" fill-opacity="0.85" transform="rotate(-40.0 106.9 338.4)"/>
<ellipse cx="114.0" cy="345.5" rx="5.0" ry="10.0" fill="url(#gD)" fill-opacity="0.85" transform="rotate(30.0 114.0 345.5)"/>
<circle cx="35.8" cy="337.3" r="5.4" fill="url(#gH)"/>
<circle cx="47.1" cy="345.5" r="5.4" fill="url(#gC)"/>
<circle cx="67.1" cy="345.5" r="5.4" fill="url(#gH)"/>
<circle cx="91.4" cy="347.1" r="5.4" fill="url(#gC)"/>
<circle cx="117.1" cy="332.7" r="5.4" fill="url(#gH)"/>
<circle cx="102.2" cy="349.1" r="5.4" fill="url(#gH)"/>
<ellipse cx="163.8" cy="351.3" rx="10.0" ry="7.5" fill="url(#gG)" fill-opacity="0.85"/>
<ellipse cx="172.5" cy="356.3" rx="6.2" ry="10.0" fill="url(#gO)" fill-opacity="0.85"/>
<ellipse cx="188.8" cy="348.8" rx="7.5" ry="13.8" fill="url(#gG)" fill-opacity="0.85"/>
<ellipse cx="180.0" cy="348.8" rx="6.2" ry="5.0" fill="url(#gD)" fill-opacity="0.85"/>
<ellipse cx="168.8" cy="331.3" rx="6.2" ry="6.2" fill="url(#gG)" fill-opacity="0.85"/>
<ellipse cx="178.8" cy="332.5" rx="8.8" ry="7.5" fill="url(#gR)" fill-opacity="0.85"/>
<ellipse cx="163.8" cy="340.0" rx="3.8" ry="3.8" fill="url(#gR)" fill-opacity="0.85"/>
<ellipse cx="198.8" cy="346.3" rx="4.4" ry="7.5" fill="url(#gO)" fill-opacity="0.85"/>
<ellipse cx="207.6" cy="351.3" rx="7.5" ry="12.5" fill="url(#gG)" fill-opacity="0.85"/>
<ellipse cx="237.6" cy="351.3" rx="10.0" ry="7.5" fill="url(#gG)" fill-opacity="0.85"/>
<ellipse cx="221.3" cy="353.8" rx="7.5" ry="10.0" fill="url(#gO)" fill-opacity="0.85"/>
<ellipse cx="217.6" cy="333.8" rx="8.8" ry="7.5" fill="url(#gR)" fill-opacity="0.85"/>
<ellipse cx="231.4" cy="331.3" rx="5.0" ry="8.8" fill="url(#gG)" fill-opacity="0.85" transform="rotate(30.0 231.4 331.3)"/>
<ellipse cx="236.4" cy="340.0" rx="4.4" ry="6.2" fill="url(#gD)" fill-opacity="0.85"/>
<circle cx="160.0" cy="330.0" r="5.4" fill="url(#gH)"/>
<circle cx="169.4" cy="340.0" r="4.9" fill="url(#gC)"/>
<circle cx="180.0" cy="340.7" r="5.4" fill="url(#gH)"/>
<circle cx="208.8" cy="335.6" r="4.9" fill="url(#gH)"/>
<circle cx="238.2" cy="329.4" r="5.4" fill="url(#gH)"/>
<circle cx="213.8" cy="342.5" r="4.9" fill="url(#gC)"/>
<circle cx="227.6" cy="344.4" r="5.4" fill="url(#gH)"/>
<ellipse cx="298.8" cy="357.3" rx="11.2" ry="8.8" fill="url(#gG)" fill-opacity="0.85"/>
<ellipse cx="294.7" cy="348.4" rx="8.8" ry="5.0" fill="url(#gD)" fill-opacity="0.85"/>
<ellipse cx="290.5" cy="338.8" rx="7.5" ry="5.0" fill="url(#gG)" fill-opacity="0.85"/>
<ellipse cx="291.9" cy="323.7" rx="3.8" ry="5.0" fill="url(#gG)" fill-opacity="0.85"/>
<ellipse cx="296.7" cy="333.3" rx="5.0" ry="5.0" fill="url(#gR)" fill-opacity="0.85"/>
<ellipse cx="283.7" cy="330.5" rx="2.5" ry="2.5" fill="url(#gR)" fill-opacity="0.85"/>
<ellipse cx="313.8" cy="349.7" rx="5.6" ry="7.5" fill="url(#gR)" fill-opacity="0.85"/>
<ellipse cx="320.7" cy="359.3" rx="8.8" ry="11.2" fill="url(#gG)" fill-opacity="0.85"/>
<ellipse cx="349.5" cy="359.3" rx="8.8" ry="7.5" fill="url(#gG)" fill-opacity="0.85"/>
<ellipse cx="333.0" cy="360.7" rx="6.2" ry="10.0" fill="url(#gM)" fill-opacity="0.85"/>
<ellipse cx="331.6" cy="341.5" rx="8.8" ry="7.5" fill="url(#gR)" fill-opacity="0.85"/>
<ellipse cx="344.7" cy="340.1" rx="6.2" ry="8.8" fill="url(#gG)" fill-opacity="0.85" transform="rotate(25.0 344.7 340.1)"/>
<ellipse cx="350.1" cy="348.4" rx="5.0" ry="6.2" fill="url(#gR)" fill-opacity="0.85"/>
<circle cx="284.4" cy="321.0" r="5.4" fill="url(#gH)"/>
<circle cx="287.8" cy="332.6" r="4.9" fill="url(#gC)"/>
<circle cx="302.9" cy="342.9" r="5.4" fill="url(#gH)"/>
<circle cx="323.4" cy="343.6" r="4.3" fill="url(#gH)"/>
<circle cx="352.2" cy="337.4" r="5.4" fill="url(#gH)"/>
<circle cx="327.5" cy="351.1" r="4.9" fill="url(#gC)"/>
<circle cx="340.5" cy="351.8" r="5.4" fill="url(#gH)"/>
<ellipse cx="417.4" cy="356.6" rx="11.2" ry="8.8" fill="url(#gG)" fill-opacity="0.85"/>
<ellipse cx="414.0" cy="347.7" rx="8.8" ry="5.0" fill="url(#gD)" fill-opacity="0.85"/>
<ellipse cx="410.5" cy="338.8" rx="7.5" ry="5.0" fill="url(#gG)" fill-opacity="0.85"/>
<ellipse cx="408.5" cy="323.0" rx="3.8" ry="5.0" fill="url(#gG)" fill-opacity="0.85"/>
<ellipse cx="414.7" cy="331.9" rx="5.0" ry="5.0" fill="url(#gR)" fill-opacity="0.85"/>
<ellipse cx="431.1" cy="347.0" rx="5.6" ry="6.2" fill="url(#gR)" fill-opacity="0.85"/>
<ellipse cx="440.7" cy="355.2" rx="8.8" ry="10.0" fill="url(#gG)" fill-opacity="0.85"/>
<ellipse cx="468.1" cy="353.8" rx="8.8" ry="7.5" fill="url(#gG)" fill-opacity="0.85"/>
<ellipse cx="451.6" cy="356.6" rx="6.2" ry="10.0" fill="url(#gO)" fill-opacity="0.85"/>
<ellipse cx="448.9" cy="338.1" rx="8.8" ry="7.5" fill="url(#gR)" fill-opacity="0.85"/>
<ellipse cx="461.2" cy="333.3" rx="6.2" ry="8.8" fill="url(#gG)" fill-opacity="0.85" transform="rotate(25.0 461.2 333.3)"/>
<ellipse cx="467.4" cy="342.2" rx="4.4" ry="6.2" fill="url(#gR)" fill-opacity="0.85"/>
<circle cx="401.6" cy="320.3" r="5.4" fill="url(#gH)"/>
<circle cx="405.1" cy="331.9" r="4.9" fill="url(#gC)"/>
<circle cx="422.2" cy="341.5" r="5.4" fill="url(#gH)"/>
<circle cx="439.3" cy="340.8" r="4.3" fill="url(#gH)"/>
<circle cx="468.1" cy="331.9" r="5.4" fill="url(#gH)"/>
<circle cx="443.4" cy="347.0" r="4.9" fill="url(#gC)"/>
<circle cx="459.9" cy="344.9" r="5.4" fill="url(#gH)"/>
<text x="10.92" y="30.60" font-size="15" font-weight="bold" fill="#000" textLength="19.53" lengthAdjust="spacingAndGlyphs">(a)</text>
<text x="11.33" y="235.40" font-size="15" font-weight="bold" fill="#000" textLength="19.82" lengthAdjust="spacingAndGlyphs">(b)</text>
<text x="501.88" y="31.20" font-size="15" font-weight="bold" fill="#000" textLength="20.66" lengthAdjust="spacingAndGlyphs">(c)</text>
<text x="504.61" y="236.30" font-size="15" font-weight="bold" fill="#000" textLength="22.00" lengthAdjust="spacingAndGlyphs">(d)</text>
<text x="63.79" y="44.00" font-size="11.3" font-weight="bold" fill="#ff1010" textLength="39.59" lengthAdjust="spacingAndGlyphs">2.120 Å</text>
<text x="172.00" y="44.20" font-size="11.3" font-weight="bold" fill="#ff1010" textLength="39.07" lengthAdjust="spacingAndGlyphs">2.202 Å</text>
<text x="297.19" y="44.20" font-size="11.3" font-weight="bold" fill="#ff1010" textLength="39.60" lengthAdjust="spacingAndGlyphs">2.349 Å</text>
<text x="420.21" y="46.00" font-size="11.3" font-weight="bold" fill="#ff1010" textLength="39.09" lengthAdjust="spacingAndGlyphs">2.303 Å</text>
<text x="58.80" y="255.50" font-size="11.3" font-weight="bold" fill="#ff1010" textLength="39.08" lengthAdjust="spacingAndGlyphs">2.203 Å</text>
<text x="177.79" y="255.00" font-size="11.3" font-weight="bold" fill="#ff1010" textLength="39.59" lengthAdjust="spacingAndGlyphs">2.227 Å</text>
<text x="299.99" y="255.80" font-size="11.3" font-weight="bold" fill="#ff1010" textLength="39.59" lengthAdjust="spacingAndGlyphs">2.267 Å</text>
<text x="416.39" y="255.60" font-size="11.3" font-weight="bold" fill="#ff1010" textLength="39.59" lengthAdjust="spacingAndGlyphs">2.316 Å</text>
<text x="54.59" y="194.00" font-size="12.8" font-weight="bold" fill="#000" textLength="45.35" lengthAdjust="spacingAndGlyphs">Pd(111)</text>
<text x="166.97" y="194.00" font-size="12.8" font-weight="bold" fill="#000" textLength="61.49" lengthAdjust="spacingAndGlyphs">Pd<tspan font-size="8.5" dy="2.6">3</tspan><tspan dy="-2.6">In(111)</tspan></text>
<text x="293.97" y="194.00" font-size="12.8" font-weight="bold" fill="#000" textLength="58.48" lengthAdjust="spacingAndGlyphs">PdIn(110)</text>
<text x="405.16" y="194.00" font-size="12.8" font-weight="bold" fill="#000" textLength="68.95" lengthAdjust="spacingAndGlyphs">Pd<tspan font-size="8.5" dy="2.6">2</tspan><tspan dy="-2.6">In</tspan><tspan font-size="8.5" dy="2.6">3</tspan><tspan dy="-2.6">(110)</tspan></text>
<text x="55.95" y="403.60" font-size="12.8" font-weight="bold" fill="#000" textLength="46.40" lengthAdjust="spacingAndGlyphs">Pd(111)</text>
<text x="161.18" y="403.60" font-size="12.8" font-weight="bold" fill="#000" textLength="60.96" lengthAdjust="spacingAndGlyphs">Pd<tspan font-size="8.5" dy="2.6">3</tspan><tspan dy="-2.6">In(111)</tspan></text>
<text x="286.36" y="403.60" font-size="12.8" font-weight="bold" fill="#000" textLength="57.45" lengthAdjust="spacingAndGlyphs">PdIn(110)</text>
<text x="396.59" y="403.60" font-size="12.8" font-weight="bold" fill="#000" textLength="67.40" lengthAdjust="spacingAndGlyphs">Pd<tspan font-size="8.5" dy="2.6">2</tspan><tspan dy="-2.6">In</tspan><tspan font-size="8.5" dy="2.6">3</tspan><tspan dy="-2.6">(110)</tspan></text>
<text x="614.17" y="40.40" font-size="11.4" font-weight="bold" fill="#111" textLength="62.49" lengthAdjust="spacingAndGlyphs">19.6 kJ/mol</text>
<text x="614.18" y="75.20" font-size="11.4" font-weight="bold" fill="#1414f0" textLength="63.99" lengthAdjust="spacingAndGlyphs">30.4 kJ/mol</text>
<text x="616.31" y="112.20" font-size="11.4" font-weight="bold" fill="#f01414" textLength="63.18" lengthAdjust="spacingAndGlyphs">39.1 kJ/mol</text>
<text x="605.00" y="174.30" font-size="11.4" font-weight="bold" fill="#1a8a1a" textLength="63.48" lengthAdjust="spacingAndGlyphs">47.9 kJ/mol</text>
<text x="721.33" y="40.30" font-size="10" font-weight="bold" fill="#000" textLength="12.87" lengthAdjust="spacingAndGlyphs">Pd</text>
<text x="721.38" y="55.00" font-size="10" font-weight="bold" fill="#000" textLength="25.60" lengthAdjust="spacingAndGlyphs">Pd<tspan font-size="7" dy="2.5">3</tspan><tspan dy="-2.5">In</tspan></text>
<text x="721.30" y="69.80" font-size="10" font-weight="bold" fill="#000" textLength="22.84" lengthAdjust="spacingAndGlyphs">PdIn</text>
<text x="721.36" y="84.50" font-size="10" font-weight="bold" fill="#000" textLength="30.56" lengthAdjust="spacingAndGlyphs">Pd<tspan font-size="7" dy="2.5">2</tspan><tspan dy="-2.5">In</tspan><tspan font-size="7" dy="2.5">3</tspan><tspan dy="-2.5"></tspan></text>
<text x="625.15" y="217.80" font-size="12.4" font-weight="bold" fill="#000" textLength="68.45" lengthAdjust="spacingAndGlyphs">1000/T (K<tspan font-size="8" dy="-4.5">-1</tspan><tspan dy="4.5">)</tspan></text>
<text x="624.78" y="424.50" font-size="12" font-weight="bold" fill="#000" textLength="66.68" lengthAdjust="spacingAndGlyphs"><tspan font-style="italic">E</tspan><tspan font-style="italic" font-size="8.5" dy="2.5">a</tspan><tspan dy="-2.5"> (kJ/mol)</tspan></text>
<text x="652.65" y="254.30" font-size="11.3" font-weight="bold" fill="#000" textLength="26.78" lengthAdjust="spacingAndGlyphs">PdIn</text>
<text x="618.56" y="279.80" font-size="11.3" font-weight="bold" fill="#000" textLength="30.27" lengthAdjust="spacingAndGlyphs">Pd<tspan font-size="7.5" dy="2.5">3</tspan><tspan dy="-2.5">In</tspan></text>
<text x="622.27" y="319.50" font-size="11.3" font-weight="bold" fill="#000" textLength="16.18" lengthAdjust="spacingAndGlyphs">Pd</text>
<text x="702.90" y="287.00" font-size="11.3" font-weight="bold" fill="#000">Pd<tspan font-size="7.5" dy="2.5">2</tspan><tspan dy="-2.5">In</tspan><tspan font-size="7.5" dy="2.5">3</tspan><tspan dy="-2.5"></tspan></text>
<text x="601.78" y="344.20" font-size="11.3" font-weight="bold" fill="#000" textLength="47.84" lengthAdjust="spacingAndGlyphs">R² = 0.98</text><g stroke="#c8c8c8" stroke-width="0.9" stroke-dasharray="2.2,2.2"><line x1="575.9" y1="24.1" x2="575.9" y2="183.1"/><line x1="602.4" y1="24.1" x2="602.4" y2="183.1"/><line x1="628.9" y1="24.1" x2="628.9" y2="183.1"/><line x1="655.4" y1="24.1" x2="655.4" y2="183.1"/><line x1="682.0" y1="24.1" x2="682.0" y2="183.1"/><line x1="708.5" y1="24.1" x2="708.5" y2="183.1"/><line x1="735.0" y1="24.1" x2="735.0" y2="183.1"/><line x1="549.4" y1="160.4" x2="761.5" y2="160.4"/><line x1="549.4" y1="137.7" x2="761.5" y2="137.7"/><line x1="549.4" y1="115.0" x2="761.5" y2="115.0"/><line x1="549.4" y1="92.2" x2="761.5" y2="92.2"/><line x1="549.4" y1="69.5" x2="761.5" y2="69.5"/><line x1="549.4" y1="46.8" x2="761.5" y2="46.8"/></g>
<g stroke="#000" stroke-width="1.2"><line x1="575.9" y1="183.1" x2="575.9" y2="180.1"/><line x1="602.4" y1="183.1" x2="602.4" y2="180.1"/><line x1="628.9" y1="183.1" x2="628.9" y2="180.1"/><line x1="655.4" y1="183.1" x2="655.4" y2="180.1"/><line x1="682.0" y1="183.1" x2="682.0" y2="180.1"/><line x1="708.5" y1="183.1" x2="708.5" y2="180.1"/><line x1="735.0" y1="183.1" x2="735.0" y2="180.1"/><line x1="549.4" y1="160.4" x2="552.4" y2="160.4"/><line x1="549.4" y1="137.7" x2="552.4" y2="137.7"/><line x1="549.4" y1="115.0" x2="552.4" y2="115.0"/><line x1="549.4" y1="92.2" x2="552.4" y2="92.2"/><line x1="549.4" y1="69.5" x2="552.4" y2="69.5"/><line x1="549.4" y1="46.8" x2="552.4" y2="46.8"/></g>
<rect x="549.4" y="24.1" width="212.1" height="159.0" fill="none" stroke="#000" stroke-width="1.5"/>
<text x="539.5" y="187.0" font-size="11" text-anchor="end">-3</text>
<text x="539.5" y="164.3" font-size="11" text-anchor="end">-2</text>
<text x="539.5" y="141.6" font-size="11" text-anchor="end">-1</text>
<text x="539.5" y="118.9" font-size="11" text-anchor="end">0</text>
<text x="539.5" y="96.1" font-size="11" text-anchor="end">1</text>
<text x="539.5" y="73.4" font-size="11" text-anchor="end">2</text>
<text x="539.5" y="50.7" font-size="11" text-anchor="end">3</text>
<text x="539.5" y="28.0" font-size="11" text-anchor="end">4</text>
<text x="549.4" y="201" font-size="11" text-anchor="middle">2.9</text>
<text x="575.9" y="201" font-size="11" text-anchor="middle">3</text>
<text x="602.4" y="201" font-size="11" text-anchor="middle">3.1</text>
<text x="628.9" y="201" font-size="11" text-anchor="middle">3.2</text>
<text x="655.4" y="201" font-size="11" text-anchor="middle">3.3</text>
<text x="682.0" y="201" font-size="11" text-anchor="middle">3.4</text>
<text x="708.5" y="201" font-size="11" text-anchor="middle">3.5</text>
<text x="735.0" y="201" font-size="11" text-anchor="middle">3.6</text>
<text x="761.5" y="201" font-size="11" text-anchor="middle">3.7</text>
<line x1="587.8" y1="43.0" x2="700.5" y2="65.7" stroke="#000000" stroke-width="1.6" stroke-dasharray="5,3.2"/>
<circle cx="601.4" cy="45.5" r="3.6" fill="url(#mk_k)"/>
<circle cx="627.6" cy="51.4" r="3.6" fill="url(#mk_k)"/>
<circle cx="655.4" cy="56.4" r="3.6" fill="url(#mk_k)"/>
<circle cx="685.4" cy="62.7" r="3.6" fill="url(#mk_k)"/>
<line x1="587.8" y1="74.5" x2="697.9" y2="108.6" stroke="#1010ff" stroke-width="1.6" stroke-dasharray="5,3.2"/>
<circle cx="601.4" cy="79.8" r="3.6" fill="url(#mk_b)"/>
<circle cx="627.6" cy="86.6" r="3.6" fill="url(#mk_b)"/>
<circle cx="655.4" cy="93.2" r="3.6" fill="url(#mk_b)"/>
<circle cx="685.4" cy="106.3" r="3.6" fill="url(#mk_b)"/>
<line x1="587.8" y1="101.7" x2="700.5" y2="146.4" stroke="#ff1a1a" stroke-width="1.6" stroke-dasharray="5,3.2"/>
<circle cx="601.4" cy="108.1" r="3.6" fill="url(#mk_r)"/>
<circle cx="627.6" cy="116.3" r="3.6" fill="url(#mk_r)"/>
<circle cx="655.4" cy="127.6" r="3.6" fill="url(#mk_r)"/>
<circle cx="685.4" cy="141.3" r="3.6" fill="url(#mk_r)"/>
<line x1="587.8" y1="120.2" x2="700.5" y2="172.1" stroke="#1a8a1a" stroke-width="1.6" stroke-dasharray="5,3.2"/>
<circle cx="601.4" cy="127.9" r="3.6" fill="url(#mk_g)"/>
<circle cx="627.6" cy="137.2" r="3.6" fill="url(#mk_g)"/>
<circle cx="655.4" cy="149.9" r="3.6" fill="url(#mk_g)"/>
<circle cx="685.4" cy="166.5" r="3.6" fill="url(#mk_g)"/>
<circle cx="712.8" cy="36.7" r="3.5" fill="url(#mk_k)"/>
<circle cx="712.8" cy="51.4" r="3.5" fill="url(#mk_b)"/>
<circle cx="712.8" cy="66.2" r="3.5" fill="url(#mk_r)"/>
<circle cx="712.8" cy="80.9" r="3.5" fill="url(#mk_g)"/>
<text transform="translate(521.4,101.4) rotate(-90)" font-size="13.3" font-weight="bold" text-anchor="middle">ln r (mol<tspan font-size="8" dy="-4.5">-1</tspan><tspan dy="4.5">·h</tspan><tspan font-size="8" dy="-4.5">-1</tspan><tspan dy="4.5">·g</tspan><tspan font-size="8" dy="-4.5">-1</tspan><tspan dy="4.5">)</tspan></text><g stroke="#c8c8c8" stroke-width="0.9" stroke-dasharray="2.2,2.2"><line x1="584.2" y1="228.5" x2="584.2" y2="387.8"/><line x1="619.7" y1="228.5" x2="619.7" y2="387.8"/><line x1="655.1" y1="228.5" x2="655.1" y2="387.8"/><line x1="690.6" y1="228.5" x2="690.6" y2="387.8"/><line x1="726.0" y1="228.5" x2="726.0" y2="387.8"/><line x1="548.8" y1="355.9" x2="761.5" y2="355.9"/><line x1="548.8" y1="324.1" x2="761.5" y2="324.1"/><line x1="548.8" y1="292.2" x2="761.5" y2="292.2"/><line x1="548.8" y1="260.4" x2="761.5" y2="260.4"/></g>
<g stroke="#000" stroke-width="1.2"><line x1="584.2" y1="387.8" x2="584.2" y2="384.8"/><line x1="619.7" y1="387.8" x2="619.7" y2="384.8"/><line x1="655.1" y1="387.8" x2="655.1" y2="384.8"/><line x1="690.6" y1="387.8" x2="690.6" y2="384.8"/><line x1="726.0" y1="387.8" x2="726.0" y2="384.8"/><line x1="548.8" y1="355.9" x2="551.8" y2="355.9"/><line x1="548.8" y1="324.1" x2="551.8" y2="324.1"/><line x1="548.8" y1="292.2" x2="551.8" y2="292.2"/><line x1="548.8" y1="260.4" x2="551.8" y2="260.4"/></g>
<rect x="548.8" y="228.5" width="212.7" height="159.3" fill="none" stroke="#000" stroke-width="1.5"/>
<text x="539" y="391.7" font-size="11" text-anchor="end">0</text>
<text x="539" y="359.8" font-size="11" text-anchor="end">4</text>
<text x="539" y="328.0" font-size="11" text-anchor="end">8</text>
<text x="539" y="296.1" font-size="11" text-anchor="end">12</text>
<text x="539" y="264.3" font-size="11" text-anchor="end">16</text>
<text x="539" y="232.4" font-size="11" text-anchor="end">20</text>
<text x="548.8" y="405.8" font-size="11" text-anchor="middle">0</text>
<text x="584.2" y="405.8" font-size="11" text-anchor="middle">10</text>
<text x="619.7" y="405.8" font-size="11" text-anchor="middle">20</text>
<text x="655.1" y="405.8" font-size="11" text-anchor="middle">30</text>
<text x="690.6" y="405.8" font-size="11" text-anchor="middle">40</text>
<text x="726.0" y="405.8" font-size="11" text-anchor="middle">50</text>
<text x="761.5" y="405.8" font-size="11" text-anchor="middle">60</text>
<line x1="583.2" y1="330.5" x2="722.9" y2="236.4" stroke="#cc11cc" stroke-width="1.6" stroke-dasharray="5,3.2"/>
<circle cx="618.3" cy="305.3" r="3.6" fill="url(#mk_m)"/>
<circle cx="656.6" cy="284.5" r="3.6" fill="url(#mk_m)"/>
<circle cx="687.4" cy="258.4" r="3.6" fill="url(#mk_m)"/>
<circle cx="717.5" cy="268.8" r="3.5" fill="url(#mk_g)"/>
<text transform="translate(519.2,306.4) rotate(-90)" font-size="12" font-weight="bold" text-anchor="middle">ln <tspan font-style="italic">A</tspan><tspan font-size="8" dy="-5">′</tspan></text>
</svg></body></html>
